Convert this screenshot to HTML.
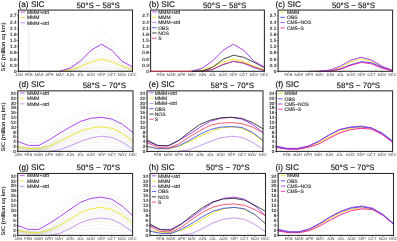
<!DOCTYPE html>
<html><head><meta charset="utf-8"><title>SIC</title>
<style>html,body{margin:0;padding:0;background:#fff;}svg{display:block}text{text-rendering:geometricPrecision}</style></head>
<body><svg width="397" height="241" viewBox="0 0 397 241">
<rect width="397" height="241" fill="#fff"/>
<polyline points="18.40,71.30 28.77,71.30 39.15,71.30 49.52,71.30 59.89,71.30 70.26,66.68 80.64,55.46 91.01,40.61 101.38,31.04 111.75,39.62 122.13,54.80 132.50,66.02" fill="none" stroke="#000" stroke-width="0.45" stroke-linejoin="round" stroke-linecap="round" stroke-opacity="0.11"/>
<polyline points="18.40,71.30 28.77,71.30 39.15,71.30 49.52,71.30 59.89,71.30 70.26,67.66 80.64,58.82 91.01,47.12 101.38,39.58 111.75,46.34 122.13,58.30 132.50,67.14" fill="none" stroke="#000" stroke-width="0.45" stroke-linejoin="round" stroke-linecap="round" stroke-opacity="0.11"/>
<polyline points="18.40,71.30 28.77,71.30 39.15,71.30 49.52,71.30 59.89,71.30 70.26,68.22 80.64,60.74 91.01,50.84 101.38,44.46 111.75,50.18 122.13,60.30 132.50,67.78" fill="none" stroke="#000" stroke-width="0.45" stroke-linejoin="round" stroke-linecap="round" stroke-opacity="0.11"/>
<polyline points="18.40,71.30 28.77,71.30 39.15,71.30 49.52,71.30 59.89,71.30 70.26,68.64 80.64,62.18 91.01,53.63 101.38,48.12 111.75,53.06 122.13,61.80 132.50,68.26" fill="none" stroke="#000" stroke-width="0.45" stroke-linejoin="round" stroke-linecap="round" stroke-opacity="0.11"/>
<polyline points="18.40,71.30 28.77,71.30 39.15,71.30 49.52,71.30 59.89,71.30 70.26,69.06 80.64,63.62 91.01,56.42 101.38,51.78 111.75,55.94 122.13,63.30 132.50,68.74" fill="none" stroke="#000" stroke-width="0.45" stroke-linejoin="round" stroke-linecap="round" stroke-opacity="0.11"/>
<polyline points="18.40,71.30 28.77,71.30 39.15,71.30 49.52,71.30 59.89,71.30 70.26,69.41 80.64,64.82 91.01,58.75 101.38,54.83 111.75,58.34 122.13,64.55 132.50,69.14" fill="none" stroke="#000" stroke-width="0.45" stroke-linejoin="round" stroke-linecap="round" stroke-opacity="0.11"/>
<polyline points="18.40,71.30 28.77,71.30 39.15,71.30 49.52,71.30 59.89,71.30 70.26,69.69 80.64,65.78 91.01,60.61 101.38,57.27 111.75,60.26 122.13,65.55 132.50,69.46" fill="none" stroke="#000" stroke-width="0.45" stroke-linejoin="round" stroke-linecap="round" stroke-opacity="0.11"/>
<polyline points="18.40,71.30 28.77,71.30 39.15,71.30 49.52,71.30 59.89,71.30 70.26,70.11 80.64,67.22 91.01,63.39 101.38,60.93 111.75,63.14 122.13,67.05 132.50,69.94" fill="none" stroke="#000" stroke-width="0.45" stroke-linejoin="round" stroke-linecap="round" stroke-opacity="0.11"/>
<polyline points="18.40,71.30 28.77,71.30 39.15,71.30 49.52,71.30 59.89,71.30 70.26,70.39 80.64,68.18 91.01,65.25 101.38,63.37 111.75,65.06 122.13,68.05 132.50,70.26" fill="none" stroke="#000" stroke-width="0.45" stroke-linejoin="round" stroke-linecap="round" stroke-opacity="0.11"/>
<polyline points="18.40,71.30 28.77,71.30 39.15,71.30 49.52,71.30 59.89,71.30 70.26,70.67 80.64,69.14 91.01,67.11 101.38,65.81 111.75,66.98 122.13,69.05 132.50,70.58" fill="none" stroke="#000" stroke-width="0.45" stroke-linejoin="round" stroke-linecap="round" stroke-opacity="0.11"/>
<polyline points="18.40,71.30 28.77,71.30 39.15,71.30 49.52,71.30 59.89,71.30 70.26,70.88 80.64,69.86 91.01,68.51 101.38,67.64 111.75,68.42 122.13,69.80 132.50,70.82" fill="none" stroke="#000" stroke-width="0.45" stroke-linejoin="round" stroke-linecap="round" stroke-opacity="0.11"/>
<polyline points="18.40,71.30 28.77,71.30 39.15,71.30 49.52,71.30 59.89,71.30 70.26,71.05 80.64,70.44 91.01,69.63 101.38,69.10 111.75,69.57 122.13,70.40 132.50,71.01" fill="none" stroke="#000" stroke-width="0.45" stroke-linejoin="round" stroke-linecap="round" stroke-opacity="0.11"/>
<polyline points="18.40,71.30 28.77,71.30 39.15,71.30 49.52,71.30 59.89,71.30 70.26,71.19 80.64,70.92 91.01,70.56 101.38,70.32 111.75,70.53 122.13,70.90 132.50,71.17" fill="none" stroke="#000" stroke-width="0.45" stroke-linejoin="round" stroke-linecap="round" stroke-opacity="0.11"/>
<line x1="28.77" y1="10.07" x2="28.77" y2="71.3" stroke="#000" stroke-opacity="0.12" stroke-width="0.5"/>
<polyline points="59.89,71.30 70.26,69.90 80.64,66.50 91.01,62.00 101.38,59.10 111.75,61.70 122.13,66.30 132.50,69.70" fill="none" stroke="#ebe32a" stroke-width="0.95" stroke-linejoin="round" stroke-linecap="round"/>
<polyline points="59.89,71.30 70.26,68.10 80.64,60.90 91.01,50.30 101.38,44.20 111.75,50.20 122.13,61.30 132.50,66.90" fill="none" stroke="#a030ee" stroke-width="0.9" stroke-linejoin="round" stroke-linecap="round"/>
<rect x="18.4" y="10.07" width="114.10" height="61.23" fill="none" stroke="#2a2a2a" stroke-width="1.05"/>
<line x1="17.00" y1="71.30" x2="18.4" y2="71.30" stroke="#1a1a1a" stroke-width="0.5"/>
<text x="16.50" y="72.92" font-size="4.6" text-anchor="end" font-family="Liberation Sans, Arial, sans-serif" fill="#222" stroke="#222" stroke-width="0.12">0</text>
<line x1="17.00" y1="65.13" x2="18.4" y2="65.13" stroke="#1a1a1a" stroke-width="0.5"/>
<text x="16.50" y="66.75" font-size="4.6" text-anchor="end" font-family="Liberation Sans, Arial, sans-serif" fill="#222" stroke="#222" stroke-width="0.12">0.3</text>
<line x1="17.00" y1="58.97" x2="18.4" y2="58.97" stroke="#1a1a1a" stroke-width="0.5"/>
<text x="16.50" y="60.59" font-size="4.6" text-anchor="end" font-family="Liberation Sans, Arial, sans-serif" fill="#222" stroke="#222" stroke-width="0.12">0.6</text>
<line x1="17.00" y1="52.80" x2="18.4" y2="52.80" stroke="#1a1a1a" stroke-width="0.5"/>
<text x="16.50" y="54.42" font-size="4.6" text-anchor="end" font-family="Liberation Sans, Arial, sans-serif" fill="#222" stroke="#222" stroke-width="0.12">0.9</text>
<line x1="17.00" y1="46.64" x2="18.4" y2="46.64" stroke="#1a1a1a" stroke-width="0.5"/>
<text x="16.50" y="48.26" font-size="4.6" text-anchor="end" font-family="Liberation Sans, Arial, sans-serif" fill="#222" stroke="#222" stroke-width="0.12">1.2</text>
<line x1="17.00" y1="40.47" x2="18.4" y2="40.47" stroke="#1a1a1a" stroke-width="0.5"/>
<text x="16.50" y="42.09" font-size="4.6" text-anchor="end" font-family="Liberation Sans, Arial, sans-serif" fill="#222" stroke="#222" stroke-width="0.12">1.5</text>
<line x1="17.00" y1="34.31" x2="18.4" y2="34.31" stroke="#1a1a1a" stroke-width="0.5"/>
<text x="16.50" y="35.93" font-size="4.6" text-anchor="end" font-family="Liberation Sans, Arial, sans-serif" fill="#222" stroke="#222" stroke-width="0.12">1.8</text>
<line x1="17.00" y1="28.14" x2="18.4" y2="28.14" stroke="#1a1a1a" stroke-width="0.5"/>
<text x="16.50" y="29.76" font-size="4.6" text-anchor="end" font-family="Liberation Sans, Arial, sans-serif" fill="#222" stroke="#222" stroke-width="0.12">2.1</text>
<line x1="17.00" y1="21.98" x2="18.4" y2="21.98" stroke="#1a1a1a" stroke-width="0.5"/>
<text x="16.50" y="23.60" font-size="4.6" text-anchor="end" font-family="Liberation Sans, Arial, sans-serif" fill="#222" stroke="#222" stroke-width="0.12">2.4</text>
<line x1="17.00" y1="15.81" x2="18.4" y2="15.81" stroke="#1a1a1a" stroke-width="0.5"/>
<text x="16.50" y="17.43" font-size="4.6" text-anchor="end" font-family="Liberation Sans, Arial, sans-serif" fill="#222" stroke="#222" stroke-width="0.12">2.7</text>
<line x1="18.40" y1="71.3" x2="18.40" y2="72.60" stroke="#1a1a1a" stroke-width="0.5"/>
<text x="19.00" y="76.15" font-size="4.0" text-anchor="middle" font-family="Liberation Sans, Arial, sans-serif" fill="#3a3a3a">JAN</text>
<line x1="28.77" y1="71.3" x2="28.77" y2="72.60" stroke="#1a1a1a" stroke-width="0.5"/>
<text x="28.77" y="76.15" font-size="4.0" text-anchor="middle" font-family="Liberation Sans, Arial, sans-serif" fill="#3a3a3a">FEB</text>
<line x1="39.15" y1="71.3" x2="39.15" y2="72.60" stroke="#1a1a1a" stroke-width="0.5"/>
<text x="39.15" y="76.15" font-size="4.0" text-anchor="middle" font-family="Liberation Sans, Arial, sans-serif" fill="#3a3a3a">MAR</text>
<line x1="49.52" y1="71.3" x2="49.52" y2="72.60" stroke="#1a1a1a" stroke-width="0.5"/>
<text x="49.52" y="76.15" font-size="4.0" text-anchor="middle" font-family="Liberation Sans, Arial, sans-serif" fill="#3a3a3a">APR</text>
<line x1="59.89" y1="71.3" x2="59.89" y2="72.60" stroke="#1a1a1a" stroke-width="0.5"/>
<text x="59.89" y="76.15" font-size="4.0" text-anchor="middle" font-family="Liberation Sans, Arial, sans-serif" fill="#3a3a3a">MAY</text>
<line x1="70.26" y1="71.3" x2="70.26" y2="72.60" stroke="#1a1a1a" stroke-width="0.5"/>
<text x="70.26" y="76.15" font-size="4.0" text-anchor="middle" font-family="Liberation Sans, Arial, sans-serif" fill="#3a3a3a">JUN</text>
<line x1="80.64" y1="71.3" x2="80.64" y2="72.60" stroke="#1a1a1a" stroke-width="0.5"/>
<text x="80.64" y="76.15" font-size="4.0" text-anchor="middle" font-family="Liberation Sans, Arial, sans-serif" fill="#3a3a3a">JUL</text>
<line x1="91.01" y1="71.3" x2="91.01" y2="72.60" stroke="#1a1a1a" stroke-width="0.5"/>
<text x="91.01" y="76.15" font-size="4.0" text-anchor="middle" font-family="Liberation Sans, Arial, sans-serif" fill="#3a3a3a">AUG</text>
<line x1="101.38" y1="71.3" x2="101.38" y2="72.60" stroke="#1a1a1a" stroke-width="0.5"/>
<text x="101.38" y="76.15" font-size="4.0" text-anchor="middle" font-family="Liberation Sans, Arial, sans-serif" fill="#3a3a3a">SEP</text>
<line x1="111.75" y1="71.3" x2="111.75" y2="72.60" stroke="#1a1a1a" stroke-width="0.5"/>
<text x="111.75" y="76.15" font-size="4.0" text-anchor="middle" font-family="Liberation Sans, Arial, sans-serif" fill="#3a3a3a">OCT</text>
<line x1="122.13" y1="71.3" x2="122.13" y2="72.60" stroke="#1a1a1a" stroke-width="0.5"/>
<text x="122.13" y="76.15" font-size="4.0" text-anchor="middle" font-family="Liberation Sans, Arial, sans-serif" fill="#3a3a3a">NOV</text>
<line x1="132.50" y1="71.3" x2="132.50" y2="72.60" stroke="#1a1a1a" stroke-width="0.5"/>
<text x="132.50" y="76.15" font-size="4.0" text-anchor="middle" font-family="Liberation Sans, Arial, sans-serif" fill="#3a3a3a">DEC</text>
<text x="18.60" y="7.05" font-size="8.2" font-family="Liberation Sans, Arial, sans-serif" fill="#111" stroke="#111" stroke-width="0.15">(a) SIC</text>
<text x="76.50" y="7.50" font-size="7.8" textLength="43.20" lengthAdjust="spacingAndGlyphs" font-family="Liberation Sans, Arial, sans-serif" fill="#111" stroke="#111" stroke-width="0.12">50°S − 58°S</text>
<line x1="20.50" y1="12.00" x2="25.00" y2="12.00" stroke="#a030ee" stroke-width="0.95" stroke-opacity="0.85"/>
<text x="26.90" y="13.80" font-size="5.0" font-family="Liberation Sans, Arial, sans-serif" fill="#222" stroke="#222" stroke-width="0.1">MMM+std</text>
<line x1="20.50" y1="17.45" x2="25.00" y2="17.45" stroke="#ebe32a" stroke-width="0.95" stroke-opacity="0.85"/>
<text x="26.90" y="19.25" font-size="5.0" font-family="Liberation Sans, Arial, sans-serif" fill="#222" stroke="#222" stroke-width="0.1">MMM</text>
<line x1="20.50" y1="22.90" x2="25.00" y2="22.90" stroke="#b97cee" stroke-width="0.95" stroke-opacity="0.85"/>
<text x="26.90" y="24.70" font-size="5.0" font-family="Liberation Sans, Arial, sans-serif" fill="#222" stroke="#222" stroke-width="0.1">MMM−std</text>
<text transform="translate(5.0,71.50) rotate(-90)" font-size="5.3" stroke="#222" stroke-width="0.1" textLength="49" lengthAdjust="spacingAndGlyphs" font-family="Liberation Sans, Arial, sans-serif" fill="#222">SIC (million sq km)</text>
<polyline points="191.98,71.30 202.33,69.90 212.67,66.50 223.02,62.00 233.36,59.10 243.71,61.70 254.05,66.30 264.40,69.70" fill="none" stroke="#ebe32a" stroke-width="0.95" stroke-linejoin="round" stroke-linecap="round"/>
<polyline points="191.98,71.30 202.33,71.20 212.67,69.50 223.02,64.70 233.36,61.40 243.71,63.30 254.05,67.70 264.40,70.70" fill="none" stroke="#2a3eee" stroke-width="0.8" stroke-linejoin="round" stroke-linecap="round"/>
<polyline points="191.98,71.30 202.33,71.20 212.67,69.30 223.02,64.30 233.36,61.30 243.71,62.90 254.05,66.90 264.40,70.30" fill="none" stroke="#f03050" stroke-width="0.8" stroke-linejoin="round" stroke-linecap="round"/>
<polyline points="191.98,71.30 202.33,71.00 212.67,67.30 223.02,59.30 233.36,55.20 243.71,57.30 254.05,62.30 264.40,67.70" fill="none" stroke="#1a1a1a" stroke-width="0.8" stroke-linejoin="round" stroke-linecap="round"/>
<polyline points="191.98,71.30 202.33,68.10 212.67,60.90 223.02,50.30 233.36,44.20 243.71,50.20 254.05,61.30 264.40,66.90" fill="none" stroke="#a030ee" stroke-width="0.9" stroke-linejoin="round" stroke-linecap="round"/>
<rect x="150.6" y="10.07" width="113.80" height="61.23" fill="none" stroke="#2a2a2a" stroke-width="1.05"/>
<line x1="149.20" y1="71.30" x2="150.6" y2="71.30" stroke="#1a1a1a" stroke-width="0.5"/>
<text x="148.70" y="72.92" font-size="4.6" text-anchor="end" font-family="Liberation Sans, Arial, sans-serif" fill="#222" stroke="#222" stroke-width="0.12">0</text>
<line x1="149.20" y1="65.13" x2="150.6" y2="65.13" stroke="#1a1a1a" stroke-width="0.5"/>
<text x="148.70" y="66.75" font-size="4.6" text-anchor="end" font-family="Liberation Sans, Arial, sans-serif" fill="#222" stroke="#222" stroke-width="0.12">0.3</text>
<line x1="149.20" y1="58.97" x2="150.6" y2="58.97" stroke="#1a1a1a" stroke-width="0.5"/>
<text x="148.70" y="60.59" font-size="4.6" text-anchor="end" font-family="Liberation Sans, Arial, sans-serif" fill="#222" stroke="#222" stroke-width="0.12">0.6</text>
<line x1="149.20" y1="52.80" x2="150.6" y2="52.80" stroke="#1a1a1a" stroke-width="0.5"/>
<text x="148.70" y="54.42" font-size="4.6" text-anchor="end" font-family="Liberation Sans, Arial, sans-serif" fill="#222" stroke="#222" stroke-width="0.12">0.9</text>
<line x1="149.20" y1="46.64" x2="150.6" y2="46.64" stroke="#1a1a1a" stroke-width="0.5"/>
<text x="148.70" y="48.26" font-size="4.6" text-anchor="end" font-family="Liberation Sans, Arial, sans-serif" fill="#222" stroke="#222" stroke-width="0.12">1.2</text>
<line x1="149.20" y1="40.47" x2="150.6" y2="40.47" stroke="#1a1a1a" stroke-width="0.5"/>
<text x="148.70" y="42.09" font-size="4.6" text-anchor="end" font-family="Liberation Sans, Arial, sans-serif" fill="#222" stroke="#222" stroke-width="0.12">1.5</text>
<line x1="149.20" y1="34.31" x2="150.6" y2="34.31" stroke="#1a1a1a" stroke-width="0.5"/>
<text x="148.70" y="35.93" font-size="4.6" text-anchor="end" font-family="Liberation Sans, Arial, sans-serif" fill="#222" stroke="#222" stroke-width="0.12">1.8</text>
<line x1="149.20" y1="28.14" x2="150.6" y2="28.14" stroke="#1a1a1a" stroke-width="0.5"/>
<text x="148.70" y="29.76" font-size="4.6" text-anchor="end" font-family="Liberation Sans, Arial, sans-serif" fill="#222" stroke="#222" stroke-width="0.12">2.1</text>
<line x1="149.20" y1="21.98" x2="150.6" y2="21.98" stroke="#1a1a1a" stroke-width="0.5"/>
<text x="148.70" y="23.60" font-size="4.6" text-anchor="end" font-family="Liberation Sans, Arial, sans-serif" fill="#222" stroke="#222" stroke-width="0.12">2.4</text>
<line x1="149.20" y1="15.81" x2="150.6" y2="15.81" stroke="#1a1a1a" stroke-width="0.5"/>
<text x="148.70" y="17.43" font-size="4.6" text-anchor="end" font-family="Liberation Sans, Arial, sans-serif" fill="#222" stroke="#222" stroke-width="0.12">2.7</text>
<line x1="150.60" y1="71.3" x2="150.60" y2="72.60" stroke="#1a1a1a" stroke-width="0.5"/>
<line x1="160.95" y1="71.3" x2="160.95" y2="72.60" stroke="#1a1a1a" stroke-width="0.5"/>
<text x="160.95" y="76.15" font-size="4.0" text-anchor="middle" font-family="Liberation Sans, Arial, sans-serif" fill="#3a3a3a">FEB</text>
<line x1="171.29" y1="71.3" x2="171.29" y2="72.60" stroke="#1a1a1a" stroke-width="0.5"/>
<text x="171.29" y="76.15" font-size="4.0" text-anchor="middle" font-family="Liberation Sans, Arial, sans-serif" fill="#3a3a3a">MAR</text>
<line x1="181.64" y1="71.3" x2="181.64" y2="72.60" stroke="#1a1a1a" stroke-width="0.5"/>
<text x="181.64" y="76.15" font-size="4.0" text-anchor="middle" font-family="Liberation Sans, Arial, sans-serif" fill="#3a3a3a">APR</text>
<line x1="191.98" y1="71.3" x2="191.98" y2="72.60" stroke="#1a1a1a" stroke-width="0.5"/>
<text x="191.98" y="76.15" font-size="4.0" text-anchor="middle" font-family="Liberation Sans, Arial, sans-serif" fill="#3a3a3a">MAY</text>
<line x1="202.33" y1="71.3" x2="202.33" y2="72.60" stroke="#1a1a1a" stroke-width="0.5"/>
<text x="202.33" y="76.15" font-size="4.0" text-anchor="middle" font-family="Liberation Sans, Arial, sans-serif" fill="#3a3a3a">JUN</text>
<line x1="212.67" y1="71.3" x2="212.67" y2="72.60" stroke="#1a1a1a" stroke-width="0.5"/>
<text x="212.67" y="76.15" font-size="4.0" text-anchor="middle" font-family="Liberation Sans, Arial, sans-serif" fill="#3a3a3a">JUL</text>
<line x1="223.02" y1="71.3" x2="223.02" y2="72.60" stroke="#1a1a1a" stroke-width="0.5"/>
<text x="223.02" y="76.15" font-size="4.0" text-anchor="middle" font-family="Liberation Sans, Arial, sans-serif" fill="#3a3a3a">AUG</text>
<line x1="233.36" y1="71.3" x2="233.36" y2="72.60" stroke="#1a1a1a" stroke-width="0.5"/>
<text x="233.36" y="76.15" font-size="4.0" text-anchor="middle" font-family="Liberation Sans, Arial, sans-serif" fill="#3a3a3a">SEP</text>
<line x1="243.71" y1="71.3" x2="243.71" y2="72.60" stroke="#1a1a1a" stroke-width="0.5"/>
<text x="243.71" y="76.15" font-size="4.0" text-anchor="middle" font-family="Liberation Sans, Arial, sans-serif" fill="#3a3a3a">OCT</text>
<line x1="254.05" y1="71.3" x2="254.05" y2="72.60" stroke="#1a1a1a" stroke-width="0.5"/>
<text x="254.05" y="76.15" font-size="4.0" text-anchor="middle" font-family="Liberation Sans, Arial, sans-serif" fill="#3a3a3a">NOV</text>
<line x1="264.40" y1="71.3" x2="264.40" y2="72.60" stroke="#1a1a1a" stroke-width="0.5"/>
<text x="264.40" y="76.15" font-size="4.0" text-anchor="middle" font-family="Liberation Sans, Arial, sans-serif" fill="#3a3a3a">DEC</text>
<text x="149.00" y="7.05" font-size="8.2" font-family="Liberation Sans, Arial, sans-serif" fill="#111" stroke="#111" stroke-width="0.15">(b) SIC</text>
<text x="203.00" y="7.50" font-size="7.8" textLength="43.20" lengthAdjust="spacingAndGlyphs" font-family="Liberation Sans, Arial, sans-serif" fill="#111" stroke="#111" stroke-width="0.12">50°S − 58°S</text>
<line x1="152.20" y1="11.90" x2="156.70" y2="11.90" stroke="#a030ee" stroke-width="0.95" stroke-opacity="0.85"/>
<text x="158.20" y="13.70" font-size="5.0" font-family="Liberation Sans, Arial, sans-serif" fill="#222" stroke="#222" stroke-width="0.1">MMM+std</text>
<line x1="152.20" y1="17.17" x2="156.70" y2="17.17" stroke="#ebe32a" stroke-width="0.95" stroke-opacity="0.85"/>
<text x="158.20" y="18.97" font-size="5.0" font-family="Liberation Sans, Arial, sans-serif" fill="#222" stroke="#222" stroke-width="0.1">MMM</text>
<line x1="152.20" y1="22.44" x2="156.70" y2="22.44" stroke="#b97cee" stroke-width="0.95" stroke-opacity="0.85"/>
<text x="158.20" y="24.24" font-size="5.0" font-family="Liberation Sans, Arial, sans-serif" fill="#222" stroke="#222" stroke-width="0.1">MMM−std</text>
<line x1="152.20" y1="27.71" x2="156.70" y2="27.71" stroke="#2a3eee" stroke-width="0.95" stroke-opacity="0.85"/>
<text x="158.20" y="29.51" font-size="5.0" font-family="Liberation Sans, Arial, sans-serif" fill="#222" stroke="#222" stroke-width="0.1">OBS</text>
<line x1="152.20" y1="32.98" x2="156.70" y2="32.98" stroke="#1a1a1a" stroke-width="0.95" stroke-opacity="0.85"/>
<text x="158.20" y="34.78" font-size="5.0" font-family="Liberation Sans, Arial, sans-serif" fill="#222" stroke="#222" stroke-width="0.1">NOS</text>
<line x1="152.20" y1="38.25" x2="156.70" y2="38.25" stroke="#f03050" stroke-width="0.95" stroke-opacity="0.85"/>
<text x="158.20" y="40.05" font-size="5.0" font-family="Liberation Sans, Arial, sans-serif" fill="#222" stroke="#222" stroke-width="0.1">S</text>
<line x1="150.6" y1="71.3" x2="192" y2="71.3" stroke="#f03050" stroke-width="0.8"/>
<polyline points="309.33,71.30 319.74,71.20 330.15,70.30 340.55,67.30 350.96,61.90 361.37,58.70 371.78,61.30 382.19,66.70 392.60,70.30" fill="none" stroke="#ebe32a" stroke-width="0.95" stroke-linejoin="round" stroke-linecap="round"/>
<polyline points="319.74,71.30 330.15,71.00 340.55,68.70 350.96,64.70 361.37,61.70 371.78,62.90 382.19,67.30 392.60,70.70" fill="none" stroke="#2a3eee" stroke-width="0.9" stroke-linejoin="round" stroke-linecap="round"/>
<polyline points="319.74,71.30 330.15,71.10 340.55,69.30 350.96,65.30 361.37,62.30 371.78,63.90 382.19,68.30 392.60,70.90" fill="none" stroke="#ff1493" stroke-width="0.9" stroke-linejoin="round" stroke-linecap="round"/>
<polyline points="309.33,71.30 319.74,71.20 330.15,69.90 340.55,65.90 350.96,60.20 361.37,57.20 371.78,60.20 382.19,66.30 392.60,70.30" fill="none" stroke="#a030ee" stroke-width="0.9" stroke-linejoin="round" stroke-linecap="round"/>
<rect x="278.1" y="10.07" width="114.50" height="61.23" fill="none" stroke="#2a2a2a" stroke-width="1.05"/>
<line x1="276.70" y1="71.30" x2="278.1" y2="71.30" stroke="#1a1a1a" stroke-width="0.5"/>
<text x="276.20" y="72.92" font-size="4.6" text-anchor="end" font-family="Liberation Sans, Arial, sans-serif" fill="#222" stroke="#222" stroke-width="0.12">0</text>
<line x1="276.70" y1="65.13" x2="278.1" y2="65.13" stroke="#1a1a1a" stroke-width="0.5"/>
<text x="276.20" y="66.75" font-size="4.6" text-anchor="end" font-family="Liberation Sans, Arial, sans-serif" fill="#222" stroke="#222" stroke-width="0.12">0.3</text>
<line x1="276.70" y1="58.97" x2="278.1" y2="58.97" stroke="#1a1a1a" stroke-width="0.5"/>
<text x="276.20" y="60.59" font-size="4.6" text-anchor="end" font-family="Liberation Sans, Arial, sans-serif" fill="#222" stroke="#222" stroke-width="0.12">0.6</text>
<line x1="276.70" y1="52.80" x2="278.1" y2="52.80" stroke="#1a1a1a" stroke-width="0.5"/>
<text x="276.20" y="54.42" font-size="4.6" text-anchor="end" font-family="Liberation Sans, Arial, sans-serif" fill="#222" stroke="#222" stroke-width="0.12">0.9</text>
<line x1="276.70" y1="46.64" x2="278.1" y2="46.64" stroke="#1a1a1a" stroke-width="0.5"/>
<text x="276.20" y="48.26" font-size="4.6" text-anchor="end" font-family="Liberation Sans, Arial, sans-serif" fill="#222" stroke="#222" stroke-width="0.12">1.2</text>
<line x1="276.70" y1="40.47" x2="278.1" y2="40.47" stroke="#1a1a1a" stroke-width="0.5"/>
<text x="276.20" y="42.09" font-size="4.6" text-anchor="end" font-family="Liberation Sans, Arial, sans-serif" fill="#222" stroke="#222" stroke-width="0.12">1.5</text>
<line x1="276.70" y1="34.31" x2="278.1" y2="34.31" stroke="#1a1a1a" stroke-width="0.5"/>
<text x="276.20" y="35.93" font-size="4.6" text-anchor="end" font-family="Liberation Sans, Arial, sans-serif" fill="#222" stroke="#222" stroke-width="0.12">1.8</text>
<line x1="276.70" y1="28.14" x2="278.1" y2="28.14" stroke="#1a1a1a" stroke-width="0.5"/>
<text x="276.20" y="29.76" font-size="4.6" text-anchor="end" font-family="Liberation Sans, Arial, sans-serif" fill="#222" stroke="#222" stroke-width="0.12">2.1</text>
<line x1="276.70" y1="21.98" x2="278.1" y2="21.98" stroke="#1a1a1a" stroke-width="0.5"/>
<text x="276.20" y="23.60" font-size="4.6" text-anchor="end" font-family="Liberation Sans, Arial, sans-serif" fill="#222" stroke="#222" stroke-width="0.12">2.4</text>
<line x1="276.70" y1="15.81" x2="278.1" y2="15.81" stroke="#1a1a1a" stroke-width="0.5"/>
<text x="276.20" y="17.43" font-size="4.6" text-anchor="end" font-family="Liberation Sans, Arial, sans-serif" fill="#222" stroke="#222" stroke-width="0.12">2.7</text>
<line x1="278.10" y1="71.3" x2="278.10" y2="72.60" stroke="#1a1a1a" stroke-width="0.5"/>
<line x1="288.51" y1="71.3" x2="288.51" y2="72.60" stroke="#1a1a1a" stroke-width="0.5"/>
<text x="288.51" y="76.15" font-size="4.0" text-anchor="middle" font-family="Liberation Sans, Arial, sans-serif" fill="#3a3a3a">FEB</text>
<line x1="298.92" y1="71.3" x2="298.92" y2="72.60" stroke="#1a1a1a" stroke-width="0.5"/>
<text x="298.92" y="76.15" font-size="4.0" text-anchor="middle" font-family="Liberation Sans, Arial, sans-serif" fill="#3a3a3a">MAR</text>
<line x1="309.33" y1="71.3" x2="309.33" y2="72.60" stroke="#1a1a1a" stroke-width="0.5"/>
<text x="309.33" y="76.15" font-size="4.0" text-anchor="middle" font-family="Liberation Sans, Arial, sans-serif" fill="#3a3a3a">APR</text>
<line x1="319.74" y1="71.3" x2="319.74" y2="72.60" stroke="#1a1a1a" stroke-width="0.5"/>
<text x="319.74" y="76.15" font-size="4.0" text-anchor="middle" font-family="Liberation Sans, Arial, sans-serif" fill="#3a3a3a">MAY</text>
<line x1="330.15" y1="71.3" x2="330.15" y2="72.60" stroke="#1a1a1a" stroke-width="0.5"/>
<text x="330.15" y="76.15" font-size="4.0" text-anchor="middle" font-family="Liberation Sans, Arial, sans-serif" fill="#3a3a3a">JUN</text>
<line x1="340.55" y1="71.3" x2="340.55" y2="72.60" stroke="#1a1a1a" stroke-width="0.5"/>
<text x="340.55" y="76.15" font-size="4.0" text-anchor="middle" font-family="Liberation Sans, Arial, sans-serif" fill="#3a3a3a">JUL</text>
<line x1="350.96" y1="71.3" x2="350.96" y2="72.60" stroke="#1a1a1a" stroke-width="0.5"/>
<text x="350.96" y="76.15" font-size="4.0" text-anchor="middle" font-family="Liberation Sans, Arial, sans-serif" fill="#3a3a3a">AUG</text>
<line x1="361.37" y1="71.3" x2="361.37" y2="72.60" stroke="#1a1a1a" stroke-width="0.5"/>
<text x="361.37" y="76.15" font-size="4.0" text-anchor="middle" font-family="Liberation Sans, Arial, sans-serif" fill="#3a3a3a">SEP</text>
<line x1="371.78" y1="71.3" x2="371.78" y2="72.60" stroke="#1a1a1a" stroke-width="0.5"/>
<text x="371.78" y="76.15" font-size="4.0" text-anchor="middle" font-family="Liberation Sans, Arial, sans-serif" fill="#3a3a3a">OCT</text>
<line x1="382.19" y1="71.3" x2="382.19" y2="72.60" stroke="#1a1a1a" stroke-width="0.5"/>
<text x="382.19" y="76.15" font-size="4.0" text-anchor="middle" font-family="Liberation Sans, Arial, sans-serif" fill="#3a3a3a">NOV</text>
<line x1="392.60" y1="71.3" x2="392.60" y2="72.60" stroke="#1a1a1a" stroke-width="0.5"/>
<text x="392.60" y="76.15" font-size="4.0" text-anchor="middle" font-family="Liberation Sans, Arial, sans-serif" fill="#3a3a3a">DEC</text>
<text x="275.50" y="7.05" font-size="8.2" font-family="Liberation Sans, Arial, sans-serif" fill="#111" stroke="#111" stroke-width="0.15">(c) SIC</text>
<text x="331.90" y="7.50" font-size="7.8" textLength="43.10" lengthAdjust="spacingAndGlyphs" font-family="Liberation Sans, Arial, sans-serif" fill="#111" stroke="#111" stroke-width="0.12">50°S − 58°S</text>
<line x1="280.40" y1="12.00" x2="284.80" y2="12.00" stroke="#ebe32a" stroke-width="0.95" stroke-opacity="0.85"/>
<text x="287.00" y="13.80" font-size="5.0" font-family="Liberation Sans, Arial, sans-serif" fill="#222" stroke="#222" stroke-width="0.1">MMM</text>
<line x1="280.40" y1="17.30" x2="284.80" y2="17.30" stroke="#2a3eee" stroke-width="0.95" stroke-opacity="0.85"/>
<text x="287.00" y="19.10" font-size="5.0" font-family="Liberation Sans, Arial, sans-serif" fill="#222" stroke="#222" stroke-width="0.1">OBS</text>
<line x1="280.40" y1="22.60" x2="284.80" y2="22.60" stroke="#a030ee" stroke-width="0.95" stroke-opacity="0.85"/>
<text x="287.00" y="24.40" font-size="5.0" font-family="Liberation Sans, Arial, sans-serif" fill="#222" stroke="#222" stroke-width="0.1">CM5−NOS</text>
<line x1="280.40" y1="27.90" x2="284.80" y2="27.90" stroke="#ff1493" stroke-width="0.95" stroke-opacity="0.85"/>
<text x="287.00" y="29.70" font-size="5.0" font-family="Liberation Sans, Arial, sans-serif" fill="#222" stroke="#222" stroke-width="0.1">CM5−S</text>
<polyline points="17.80,145.55 28.27,147.41 38.75,147.81 49.22,144.62 59.69,137.83 70.16,130.92 80.64,124.27 91.11,120.28 101.58,118.81 112.05,120.68 122.53,127.59 133.00,138.10" fill="none" stroke="#000" stroke-width="0.45" stroke-linejoin="round" stroke-linecap="round" stroke-opacity="0.11"/>
<polyline points="17.80,146.03 28.27,147.74 38.75,148.11 49.22,145.18 59.69,138.96 70.16,132.61 80.64,126.51 91.11,122.85 101.58,121.51 112.05,123.22 122.53,129.56 133.00,139.20" fill="none" stroke="#000" stroke-width="0.45" stroke-linejoin="round" stroke-linecap="round" stroke-opacity="0.11"/>
<polyline points="17.80,146.38 28.27,147.98 38.75,148.32 49.22,145.59 59.69,139.77 70.16,133.84 80.64,128.14 91.11,124.72 101.58,123.47 112.05,125.07 122.53,130.99 133.00,140.00" fill="none" stroke="#000" stroke-width="0.45" stroke-linejoin="round" stroke-linecap="round" stroke-opacity="0.11"/>
<polyline points="17.80,146.69 28.27,148.19 38.75,148.51 49.22,145.94 59.69,140.49 70.16,134.92 80.64,129.57 91.11,126.36 101.58,125.19 112.05,126.68 122.53,132.25 133.00,140.70" fill="none" stroke="#000" stroke-width="0.45" stroke-linejoin="round" stroke-linecap="round" stroke-opacity="0.11"/>
<polyline points="17.80,147.31 28.27,148.61 38.75,148.89 49.22,146.66 59.69,141.91 70.16,137.08 80.64,132.43 91.11,129.64 101.58,128.62 112.05,129.92 122.53,134.75 133.00,142.10" fill="none" stroke="#000" stroke-width="0.45" stroke-linejoin="round" stroke-linecap="round" stroke-opacity="0.11"/>
<polyline points="17.80,147.62 28.27,148.82 38.75,149.08 49.22,147.01 59.69,142.63 70.16,138.16 80.64,133.86 91.11,131.28 101.58,130.33 112.05,131.53 122.53,136.01 133.00,142.80" fill="none" stroke="#000" stroke-width="0.45" stroke-linejoin="round" stroke-linecap="round" stroke-opacity="0.11"/>
<polyline points="17.80,147.97 28.27,149.06 38.75,149.29 49.22,147.42 59.69,143.44 70.16,139.39 80.64,135.49 91.11,133.15 101.58,132.29 112.05,133.38 122.53,137.44 133.00,143.60" fill="none" stroke="#000" stroke-width="0.45" stroke-linejoin="round" stroke-linecap="round" stroke-opacity="0.11"/>
<polyline points="17.80,148.32 28.27,149.30 38.75,149.51 49.22,147.83 59.69,144.26 70.16,140.62 80.64,137.12 91.11,135.02 101.58,134.25 112.05,135.23 122.53,138.87 133.00,144.40" fill="none" stroke="#000" stroke-width="0.45" stroke-linejoin="round" stroke-linecap="round" stroke-opacity="0.11"/>
<polyline points="17.80,148.76 28.27,149.60 38.75,149.78 49.22,148.34 59.69,145.28 70.16,142.16 80.64,139.16 91.11,137.36 101.58,136.70 112.05,137.54 122.53,140.66 133.00,145.40" fill="none" stroke="#000" stroke-width="0.45" stroke-linejoin="round" stroke-linecap="round" stroke-opacity="0.11"/>
<polyline points="17.80,149.20 28.27,149.90 38.75,150.05 49.22,148.85 59.69,146.30 70.16,143.70 80.64,141.20 91.11,139.70 101.58,139.15 112.05,139.85 122.53,142.45 133.00,146.40" fill="none" stroke="#000" stroke-width="0.45" stroke-linejoin="round" stroke-linecap="round" stroke-opacity="0.11"/>
<polyline points="17.80,149.73 28.27,150.26 38.75,150.37 49.22,149.46 59.69,147.52 70.16,145.55 80.64,143.65 91.11,142.51 101.58,142.09 112.05,142.62 122.53,144.60 133.00,147.60" fill="none" stroke="#000" stroke-width="0.45" stroke-linejoin="round" stroke-linecap="round" stroke-opacity="0.11"/>
<polyline points="17.80,150.30 28.27,150.65 38.75,150.72 49.22,150.12 59.69,148.85 70.16,147.55 80.64,146.30 91.11,145.55 101.58,145.28 112.05,145.62 122.53,146.93 133.00,148.90" fill="none" stroke="#000" stroke-width="0.45" stroke-linejoin="round" stroke-linecap="round" stroke-opacity="0.11"/>
<polyline points="17.80,150.87 28.27,151.04 38.75,151.08 49.22,150.79 59.69,150.18 70.16,149.55 80.64,148.95 91.11,148.59 101.58,148.46 112.05,148.63 122.53,149.25 133.00,150.20" fill="none" stroke="#000" stroke-width="0.45" stroke-linejoin="round" stroke-linecap="round" stroke-opacity="0.11"/>
<polyline points="17.80,133.46 28.27,139.60 38.75,139.60 49.22,131.51 59.69,123.42 70.16,116.88 80.64,112.98 91.11,110.35 101.58,109.67 112.05,111.03 122.53,115.91 133.00,124.69" fill="none" stroke="#000" stroke-width="0.45" stroke-linejoin="round" stroke-linecap="round" stroke-opacity="0.11"/>
<polyline points="17.80,137.36 28.27,142.72 38.75,142.72 49.22,135.90 59.69,128.10 70.16,121.27 80.64,115.91 91.11,112.79 101.58,111.82 112.05,113.47 122.53,119.32 133.00,128.59" fill="none" stroke="#000" stroke-width="0.45" stroke-linejoin="round" stroke-linecap="round" stroke-opacity="0.11"/>
<polyline points="17.80,144.19 28.27,147.11 38.75,147.40 49.22,143.70 59.69,136.87 70.16,128.59 80.64,121.76 91.11,118.35 101.58,117.37 112.05,120.30 122.53,127.12 133.00,137.36" fill="none" stroke="#000" stroke-width="0.45" stroke-linejoin="round" stroke-linecap="round" stroke-opacity="0.11"/>
<polyline points="49.22,151.40 59.69,149.80 70.16,145.80 80.64,141.40 91.11,137.90 101.58,136.20 112.05,137.40 122.53,142.30 133.00,149.20" fill="none" stroke="#b97cee" stroke-width="0.8" stroke-linejoin="round" stroke-linecap="round"/>
<polyline points="17.80,147.00 28.27,148.40 38.75,148.70 49.22,146.30 59.69,141.20 70.16,136.00 80.64,131.00 91.11,128.00 101.58,126.90 112.05,128.30 122.53,133.50 133.00,141.40" fill="none" stroke="#ebe32a" stroke-width="0.95" stroke-linejoin="round" stroke-linecap="round"/>
<polyline points="17.80,141.40 28.27,145.40 38.75,145.40 49.22,139.80 59.69,133.20 70.16,127.00 80.64,121.30 91.11,118.20 101.58,117.30 112.05,119.10 122.53,124.30 133.00,132.70" fill="none" stroke="#a030ee" stroke-width="0.9" stroke-linejoin="round" stroke-linecap="round"/>
<rect x="17.8" y="90.85" width="115.20" height="60.55" fill="none" stroke="#2a2a2a" stroke-width="1.05"/>
<line x1="16.40" y1="151.40" x2="17.8" y2="151.40" stroke="#1a1a1a" stroke-width="0.5"/>
<text x="15.90" y="153.02" font-size="4.6" text-anchor="end" font-family="Liberation Sans, Arial, sans-serif" fill="#222" stroke="#222" stroke-width="0.12">0</text>
<line x1="16.40" y1="146.56" x2="17.8" y2="146.56" stroke="#1a1a1a" stroke-width="0.5"/>
<text x="15.90" y="148.18" font-size="4.6" text-anchor="end" font-family="Liberation Sans, Arial, sans-serif" fill="#222" stroke="#222" stroke-width="0.12">2</text>
<line x1="16.40" y1="141.71" x2="17.8" y2="141.71" stroke="#1a1a1a" stroke-width="0.5"/>
<text x="15.90" y="143.33" font-size="4.6" text-anchor="end" font-family="Liberation Sans, Arial, sans-serif" fill="#222" stroke="#222" stroke-width="0.12">4</text>
<line x1="16.40" y1="136.87" x2="17.8" y2="136.87" stroke="#1a1a1a" stroke-width="0.5"/>
<text x="15.90" y="138.49" font-size="4.6" text-anchor="end" font-family="Liberation Sans, Arial, sans-serif" fill="#222" stroke="#222" stroke-width="0.12">6</text>
<line x1="16.40" y1="132.02" x2="17.8" y2="132.02" stroke="#1a1a1a" stroke-width="0.5"/>
<text x="15.90" y="133.64" font-size="4.6" text-anchor="end" font-family="Liberation Sans, Arial, sans-serif" fill="#222" stroke="#222" stroke-width="0.12">8</text>
<line x1="16.40" y1="127.18" x2="17.8" y2="127.18" stroke="#1a1a1a" stroke-width="0.5"/>
<text x="15.90" y="128.80" font-size="4.6" text-anchor="end" font-family="Liberation Sans, Arial, sans-serif" fill="#222" stroke="#222" stroke-width="0.12">10</text>
<line x1="16.40" y1="122.34" x2="17.8" y2="122.34" stroke="#1a1a1a" stroke-width="0.5"/>
<text x="15.90" y="123.96" font-size="4.6" text-anchor="end" font-family="Liberation Sans, Arial, sans-serif" fill="#222" stroke="#222" stroke-width="0.12">12</text>
<line x1="16.40" y1="117.49" x2="17.8" y2="117.49" stroke="#1a1a1a" stroke-width="0.5"/>
<text x="15.90" y="119.11" font-size="4.6" text-anchor="end" font-family="Liberation Sans, Arial, sans-serif" fill="#222" stroke="#222" stroke-width="0.12">14</text>
<line x1="16.40" y1="112.65" x2="17.8" y2="112.65" stroke="#1a1a1a" stroke-width="0.5"/>
<text x="15.90" y="114.27" font-size="4.6" text-anchor="end" font-family="Liberation Sans, Arial, sans-serif" fill="#222" stroke="#222" stroke-width="0.12">16</text>
<line x1="16.40" y1="107.80" x2="17.8" y2="107.80" stroke="#1a1a1a" stroke-width="0.5"/>
<text x="15.90" y="109.42" font-size="4.6" text-anchor="end" font-family="Liberation Sans, Arial, sans-serif" fill="#222" stroke="#222" stroke-width="0.12">18</text>
<line x1="16.40" y1="102.96" x2="17.8" y2="102.96" stroke="#1a1a1a" stroke-width="0.5"/>
<text x="15.90" y="104.58" font-size="4.6" text-anchor="end" font-family="Liberation Sans, Arial, sans-serif" fill="#222" stroke="#222" stroke-width="0.12">20</text>
<line x1="16.40" y1="98.12" x2="17.8" y2="98.12" stroke="#1a1a1a" stroke-width="0.5"/>
<text x="15.90" y="99.74" font-size="4.6" text-anchor="end" font-family="Liberation Sans, Arial, sans-serif" fill="#222" stroke="#222" stroke-width="0.12">22</text>
<line x1="16.40" y1="93.27" x2="17.8" y2="93.27" stroke="#1a1a1a" stroke-width="0.5"/>
<text x="15.90" y="94.89" font-size="4.6" text-anchor="end" font-family="Liberation Sans, Arial, sans-serif" fill="#222" stroke="#222" stroke-width="0.12">24</text>
<line x1="17.80" y1="151.4" x2="17.80" y2="152.70" stroke="#1a1a1a" stroke-width="0.5"/>
<text x="18.40" y="156.25" font-size="4.0" text-anchor="middle" font-family="Liberation Sans, Arial, sans-serif" fill="#3a3a3a">JAN</text>
<line x1="28.27" y1="151.4" x2="28.27" y2="152.70" stroke="#1a1a1a" stroke-width="0.5"/>
<text x="28.27" y="156.25" font-size="4.0" text-anchor="middle" font-family="Liberation Sans, Arial, sans-serif" fill="#3a3a3a">FEB</text>
<line x1="38.75" y1="151.4" x2="38.75" y2="152.70" stroke="#1a1a1a" stroke-width="0.5"/>
<text x="38.75" y="156.25" font-size="4.0" text-anchor="middle" font-family="Liberation Sans, Arial, sans-serif" fill="#3a3a3a">MAR</text>
<line x1="49.22" y1="151.4" x2="49.22" y2="152.70" stroke="#1a1a1a" stroke-width="0.5"/>
<text x="49.22" y="156.25" font-size="4.0" text-anchor="middle" font-family="Liberation Sans, Arial, sans-serif" fill="#3a3a3a">APR</text>
<line x1="59.69" y1="151.4" x2="59.69" y2="152.70" stroke="#1a1a1a" stroke-width="0.5"/>
<text x="59.69" y="156.25" font-size="4.0" text-anchor="middle" font-family="Liberation Sans, Arial, sans-serif" fill="#3a3a3a">MAY</text>
<line x1="70.16" y1="151.4" x2="70.16" y2="152.70" stroke="#1a1a1a" stroke-width="0.5"/>
<text x="70.16" y="156.25" font-size="4.0" text-anchor="middle" font-family="Liberation Sans, Arial, sans-serif" fill="#3a3a3a">JUN</text>
<line x1="80.64" y1="151.4" x2="80.64" y2="152.70" stroke="#1a1a1a" stroke-width="0.5"/>
<text x="80.64" y="156.25" font-size="4.0" text-anchor="middle" font-family="Liberation Sans, Arial, sans-serif" fill="#3a3a3a">JUL</text>
<line x1="91.11" y1="151.4" x2="91.11" y2="152.70" stroke="#1a1a1a" stroke-width="0.5"/>
<text x="91.11" y="156.25" font-size="4.0" text-anchor="middle" font-family="Liberation Sans, Arial, sans-serif" fill="#3a3a3a">AUG</text>
<line x1="101.58" y1="151.4" x2="101.58" y2="152.70" stroke="#1a1a1a" stroke-width="0.5"/>
<text x="101.58" y="156.25" font-size="4.0" text-anchor="middle" font-family="Liberation Sans, Arial, sans-serif" fill="#3a3a3a">SEP</text>
<line x1="112.05" y1="151.4" x2="112.05" y2="152.70" stroke="#1a1a1a" stroke-width="0.5"/>
<text x="112.05" y="156.25" font-size="4.0" text-anchor="middle" font-family="Liberation Sans, Arial, sans-serif" fill="#3a3a3a">OCT</text>
<line x1="122.53" y1="151.4" x2="122.53" y2="152.70" stroke="#1a1a1a" stroke-width="0.5"/>
<text x="122.53" y="156.25" font-size="4.0" text-anchor="middle" font-family="Liberation Sans, Arial, sans-serif" fill="#3a3a3a">NOV</text>
<line x1="133.00" y1="151.4" x2="133.00" y2="152.70" stroke="#1a1a1a" stroke-width="0.5"/>
<text x="133.00" y="156.25" font-size="4.0" text-anchor="middle" font-family="Liberation Sans, Arial, sans-serif" fill="#3a3a3a">DEC</text>
<text x="18.80" y="87.40" font-size="8.2" font-family="Liberation Sans, Arial, sans-serif" fill="#111" stroke="#111" stroke-width="0.15">(d) SIC</text>
<text x="82.70" y="87.85" font-size="7.8" textLength="43.30" lengthAdjust="spacingAndGlyphs" font-family="Liberation Sans, Arial, sans-serif" fill="#111" stroke="#111" stroke-width="0.12">58°S − 70°S</text>
<line x1="19.90" y1="92.90" x2="24.70" y2="92.90" stroke="#a030ee" stroke-width="0.95" stroke-opacity="0.85"/>
<text x="27.00" y="94.70" font-size="5.0" font-family="Liberation Sans, Arial, sans-serif" fill="#222" stroke="#222" stroke-width="0.1">MMM+std</text>
<line x1="19.90" y1="98.35" x2="24.70" y2="98.35" stroke="#ebe32a" stroke-width="0.95" stroke-opacity="0.85"/>
<text x="27.00" y="100.15" font-size="5.0" font-family="Liberation Sans, Arial, sans-serif" fill="#222" stroke="#222" stroke-width="0.1">MMM</text>
<line x1="19.90" y1="103.80" x2="24.70" y2="103.80" stroke="#b97cee" stroke-width="0.95" stroke-opacity="0.85"/>
<text x="27.00" y="105.60" font-size="5.0" font-family="Liberation Sans, Arial, sans-serif" fill="#222" stroke="#222" stroke-width="0.1">MMM−std</text>
<text transform="translate(5.0,151.60) rotate(-90)" font-size="5.3" stroke="#222" stroke-width="0.1" textLength="49" lengthAdjust="spacingAndGlyphs" font-family="Liberation Sans, Arial, sans-serif" fill="#222">SIC (million sq km)</text>
<polyline points="178.71,151.40 189.25,149.80 199.78,145.80 210.32,141.40 220.85,137.90 231.39,136.20 241.93,137.40 252.46,142.30 263.00,149.20" fill="none" stroke="#b97cee" stroke-width="0.8" stroke-linejoin="round" stroke-linecap="round"/>
<polyline points="147.10,147.00 157.64,148.40 168.17,148.70 178.71,146.50 189.25,141.80 199.78,136.50 210.32,131.60 220.85,128.00 231.39,126.90 241.93,128.30 252.46,133.50 263.00,141.40" fill="none" stroke="#ebe32a" stroke-width="0.95" stroke-linejoin="round" stroke-linecap="round"/>
<polyline points="147.10,146.30 157.64,148.70 168.17,148.70 178.71,145.80 189.25,140.50 199.78,134.40 210.32,129.50 220.85,127.10 231.39,126.60 241.93,127.40 252.46,132.30 263.00,140.50" fill="none" stroke="#2a3eee" stroke-width="0.8" stroke-linejoin="round" stroke-linecap="round"/>
<polyline points="147.10,142.80 157.64,147.20 168.17,148.00 178.71,144.00 189.25,137.00 199.78,130.60 210.32,125.30 220.85,123.10 231.39,122.60 241.93,123.60 252.46,127.10 263.00,132.70" fill="none" stroke="#f03050" stroke-width="0.8" stroke-linejoin="round" stroke-linecap="round"/>
<polyline points="147.10,141.40 157.64,145.60 168.17,145.90 178.71,140.40 189.25,134.30 199.78,127.30 210.32,121.30 220.85,118.20 231.39,117.30 241.93,119.10 252.46,124.30 263.00,132.70" fill="none" stroke="#a030ee" stroke-width="0.9" stroke-linejoin="round" stroke-linecap="round"/>
<polyline points="147.10,140.00 157.64,145.40 168.17,145.80 178.71,140.50 189.25,132.10 199.78,124.50 210.32,120.10 220.85,117.80 231.39,117.30 241.93,118.40 252.46,122.60 263.00,128.80" fill="none" stroke="#1a1a1a" stroke-width="0.8" stroke-linejoin="round" stroke-linecap="round"/>
<rect x="147.1" y="90.85" width="115.90" height="60.55" fill="none" stroke="#2a2a2a" stroke-width="1.05"/>
<line x1="145.70" y1="151.40" x2="147.1" y2="151.40" stroke="#1a1a1a" stroke-width="0.5"/>
<text x="145.20" y="153.02" font-size="4.6" text-anchor="end" font-family="Liberation Sans, Arial, sans-serif" fill="#222" stroke="#222" stroke-width="0.12">0</text>
<line x1="145.70" y1="146.56" x2="147.1" y2="146.56" stroke="#1a1a1a" stroke-width="0.5"/>
<text x="145.20" y="148.18" font-size="4.6" text-anchor="end" font-family="Liberation Sans, Arial, sans-serif" fill="#222" stroke="#222" stroke-width="0.12">2</text>
<line x1="145.70" y1="141.71" x2="147.1" y2="141.71" stroke="#1a1a1a" stroke-width="0.5"/>
<text x="145.20" y="143.33" font-size="4.6" text-anchor="end" font-family="Liberation Sans, Arial, sans-serif" fill="#222" stroke="#222" stroke-width="0.12">4</text>
<line x1="145.70" y1="136.87" x2="147.1" y2="136.87" stroke="#1a1a1a" stroke-width="0.5"/>
<text x="145.20" y="138.49" font-size="4.6" text-anchor="end" font-family="Liberation Sans, Arial, sans-serif" fill="#222" stroke="#222" stroke-width="0.12">6</text>
<line x1="145.70" y1="132.02" x2="147.1" y2="132.02" stroke="#1a1a1a" stroke-width="0.5"/>
<text x="145.20" y="133.64" font-size="4.6" text-anchor="end" font-family="Liberation Sans, Arial, sans-serif" fill="#222" stroke="#222" stroke-width="0.12">8</text>
<line x1="145.70" y1="127.18" x2="147.1" y2="127.18" stroke="#1a1a1a" stroke-width="0.5"/>
<text x="145.20" y="128.80" font-size="4.6" text-anchor="end" font-family="Liberation Sans, Arial, sans-serif" fill="#222" stroke="#222" stroke-width="0.12">10</text>
<line x1="145.70" y1="122.34" x2="147.1" y2="122.34" stroke="#1a1a1a" stroke-width="0.5"/>
<text x="145.20" y="123.96" font-size="4.6" text-anchor="end" font-family="Liberation Sans, Arial, sans-serif" fill="#222" stroke="#222" stroke-width="0.12">12</text>
<line x1="145.70" y1="117.49" x2="147.1" y2="117.49" stroke="#1a1a1a" stroke-width="0.5"/>
<text x="145.20" y="119.11" font-size="4.6" text-anchor="end" font-family="Liberation Sans, Arial, sans-serif" fill="#222" stroke="#222" stroke-width="0.12">14</text>
<line x1="145.70" y1="112.65" x2="147.1" y2="112.65" stroke="#1a1a1a" stroke-width="0.5"/>
<text x="145.20" y="114.27" font-size="4.6" text-anchor="end" font-family="Liberation Sans, Arial, sans-serif" fill="#222" stroke="#222" stroke-width="0.12">16</text>
<line x1="145.70" y1="107.80" x2="147.1" y2="107.80" stroke="#1a1a1a" stroke-width="0.5"/>
<text x="145.20" y="109.42" font-size="4.6" text-anchor="end" font-family="Liberation Sans, Arial, sans-serif" fill="#222" stroke="#222" stroke-width="0.12">18</text>
<line x1="145.70" y1="102.96" x2="147.1" y2="102.96" stroke="#1a1a1a" stroke-width="0.5"/>
<text x="145.20" y="104.58" font-size="4.6" text-anchor="end" font-family="Liberation Sans, Arial, sans-serif" fill="#222" stroke="#222" stroke-width="0.12">20</text>
<line x1="145.70" y1="98.12" x2="147.1" y2="98.12" stroke="#1a1a1a" stroke-width="0.5"/>
<text x="145.20" y="99.74" font-size="4.6" text-anchor="end" font-family="Liberation Sans, Arial, sans-serif" fill="#222" stroke="#222" stroke-width="0.12">22</text>
<line x1="145.70" y1="93.27" x2="147.1" y2="93.27" stroke="#1a1a1a" stroke-width="0.5"/>
<text x="145.20" y="94.89" font-size="4.6" text-anchor="end" font-family="Liberation Sans, Arial, sans-serif" fill="#222" stroke="#222" stroke-width="0.12">24</text>
<line x1="147.10" y1="151.4" x2="147.10" y2="152.70" stroke="#1a1a1a" stroke-width="0.5"/>
<line x1="157.64" y1="151.4" x2="157.64" y2="152.70" stroke="#1a1a1a" stroke-width="0.5"/>
<text x="157.64" y="156.25" font-size="4.0" text-anchor="middle" font-family="Liberation Sans, Arial, sans-serif" fill="#3a3a3a">FEB</text>
<line x1="168.17" y1="151.4" x2="168.17" y2="152.70" stroke="#1a1a1a" stroke-width="0.5"/>
<text x="168.17" y="156.25" font-size="4.0" text-anchor="middle" font-family="Liberation Sans, Arial, sans-serif" fill="#3a3a3a">MAR</text>
<line x1="178.71" y1="151.4" x2="178.71" y2="152.70" stroke="#1a1a1a" stroke-width="0.5"/>
<text x="178.71" y="156.25" font-size="4.0" text-anchor="middle" font-family="Liberation Sans, Arial, sans-serif" fill="#3a3a3a">APR</text>
<line x1="189.25" y1="151.4" x2="189.25" y2="152.70" stroke="#1a1a1a" stroke-width="0.5"/>
<text x="189.25" y="156.25" font-size="4.0" text-anchor="middle" font-family="Liberation Sans, Arial, sans-serif" fill="#3a3a3a">MAY</text>
<line x1="199.78" y1="151.4" x2="199.78" y2="152.70" stroke="#1a1a1a" stroke-width="0.5"/>
<text x="199.78" y="156.25" font-size="4.0" text-anchor="middle" font-family="Liberation Sans, Arial, sans-serif" fill="#3a3a3a">JUN</text>
<line x1="210.32" y1="151.4" x2="210.32" y2="152.70" stroke="#1a1a1a" stroke-width="0.5"/>
<text x="210.32" y="156.25" font-size="4.0" text-anchor="middle" font-family="Liberation Sans, Arial, sans-serif" fill="#3a3a3a">JUL</text>
<line x1="220.85" y1="151.4" x2="220.85" y2="152.70" stroke="#1a1a1a" stroke-width="0.5"/>
<text x="220.85" y="156.25" font-size="4.0" text-anchor="middle" font-family="Liberation Sans, Arial, sans-serif" fill="#3a3a3a">AUG</text>
<line x1="231.39" y1="151.4" x2="231.39" y2="152.70" stroke="#1a1a1a" stroke-width="0.5"/>
<text x="231.39" y="156.25" font-size="4.0" text-anchor="middle" font-family="Liberation Sans, Arial, sans-serif" fill="#3a3a3a">SEP</text>
<line x1="241.93" y1="151.4" x2="241.93" y2="152.70" stroke="#1a1a1a" stroke-width="0.5"/>
<text x="241.93" y="156.25" font-size="4.0" text-anchor="middle" font-family="Liberation Sans, Arial, sans-serif" fill="#3a3a3a">OCT</text>
<line x1="252.46" y1="151.4" x2="252.46" y2="152.70" stroke="#1a1a1a" stroke-width="0.5"/>
<text x="252.46" y="156.25" font-size="4.0" text-anchor="middle" font-family="Liberation Sans, Arial, sans-serif" fill="#3a3a3a">NOV</text>
<line x1="263.00" y1="151.4" x2="263.00" y2="152.70" stroke="#1a1a1a" stroke-width="0.5"/>
<text x="263.00" y="156.25" font-size="4.0" text-anchor="middle" font-family="Liberation Sans, Arial, sans-serif" fill="#3a3a3a">DEC</text>
<text x="148.80" y="87.40" font-size="8.2" font-family="Liberation Sans, Arial, sans-serif" fill="#111" stroke="#111" stroke-width="0.15">(e) SIC</text>
<text x="210.50" y="87.85" font-size="7.8" textLength="43.50" lengthAdjust="spacingAndGlyphs" font-family="Liberation Sans, Arial, sans-serif" fill="#111" stroke="#111" stroke-width="0.12">58°S − 70°S</text>
<line x1="149.40" y1="92.80" x2="153.70" y2="92.80" stroke="#a030ee" stroke-width="0.95" stroke-opacity="0.85"/>
<text x="154.70" y="94.60" font-size="5.0" font-family="Liberation Sans, Arial, sans-serif" fill="#222" stroke="#222" stroke-width="0.1">MMM+std</text>
<line x1="149.40" y1="98.10" x2="153.70" y2="98.10" stroke="#ebe32a" stroke-width="0.95" stroke-opacity="0.85"/>
<text x="154.70" y="99.90" font-size="5.0" font-family="Liberation Sans, Arial, sans-serif" fill="#222" stroke="#222" stroke-width="0.1">MMM</text>
<line x1="149.40" y1="103.40" x2="153.70" y2="103.40" stroke="#b97cee" stroke-width="0.95" stroke-opacity="0.85"/>
<text x="154.70" y="105.20" font-size="5.0" font-family="Liberation Sans, Arial, sans-serif" fill="#222" stroke="#222" stroke-width="0.1">MMM−std</text>
<line x1="149.40" y1="108.70" x2="153.70" y2="108.70" stroke="#2a3eee" stroke-width="0.95" stroke-opacity="0.85"/>
<text x="154.70" y="110.50" font-size="5.0" font-family="Liberation Sans, Arial, sans-serif" fill="#222" stroke="#222" stroke-width="0.1">OBS</text>
<line x1="149.40" y1="114.00" x2="153.70" y2="114.00" stroke="#1a1a1a" stroke-width="0.95" stroke-opacity="0.85"/>
<text x="154.70" y="115.80" font-size="5.0" font-family="Liberation Sans, Arial, sans-serif" fill="#222" stroke="#222" stroke-width="0.1">NOS</text>
<line x1="149.40" y1="119.30" x2="153.70" y2="119.30" stroke="#f03050" stroke-width="0.95" stroke-opacity="0.85"/>
<text x="154.70" y="121.10" font-size="5.0" font-family="Liberation Sans, Arial, sans-serif" fill="#222" stroke="#222" stroke-width="0.1">S</text>
<polyline points="276.30,147.00 286.87,148.70 297.45,148.90 308.02,147.00 318.59,142.80 329.16,137.00 339.74,131.30 350.31,128.30 360.88,127.10 371.45,128.30 382.03,133.90 392.60,141.70" fill="none" stroke="#ebe32a" stroke-width="0.95" stroke-linejoin="round" stroke-linecap="round"/>
<polyline points="276.30,147.50 286.87,149.20 297.45,149.40 308.02,147.50 318.59,144.00 329.16,138.30 339.74,133.00 350.31,129.70 360.88,128.30 371.45,129.20 382.03,134.40 392.60,142.30" fill="none" stroke="#ff1493" stroke-width="0.9" stroke-linejoin="round" stroke-linecap="round"/>
<polyline points="276.30,146.60 286.87,148.70 297.45,148.70 308.02,146.30 318.59,141.40 329.16,134.90 339.74,129.50 350.31,127.40 360.88,126.70 371.45,128.00 382.03,133.00 392.60,141.00" fill="none" stroke="#2a3eee" stroke-width="0.9" stroke-linejoin="round" stroke-linecap="round"/>
<polyline points="276.30,146.00 286.87,148.30 297.45,148.40 308.02,146.20 318.59,141.30 329.16,135.00 339.74,129.50 350.31,127.00 360.88,126.10 371.45,127.80 382.03,133.50 392.60,141.70" fill="none" stroke="#a030ee" stroke-width="0.8" stroke-linejoin="round" stroke-linecap="round"/>
<rect x="276.3" y="90.85" width="116.30" height="60.55" fill="none" stroke="#2a2a2a" stroke-width="1.05"/>
<line x1="274.90" y1="151.40" x2="276.3" y2="151.40" stroke="#1a1a1a" stroke-width="0.5"/>
<text x="274.40" y="153.02" font-size="4.6" text-anchor="end" font-family="Liberation Sans, Arial, sans-serif" fill="#222" stroke="#222" stroke-width="0.12">0</text>
<line x1="274.90" y1="146.56" x2="276.3" y2="146.56" stroke="#1a1a1a" stroke-width="0.5"/>
<text x="274.40" y="148.18" font-size="4.6" text-anchor="end" font-family="Liberation Sans, Arial, sans-serif" fill="#222" stroke="#222" stroke-width="0.12">2</text>
<line x1="274.90" y1="141.71" x2="276.3" y2="141.71" stroke="#1a1a1a" stroke-width="0.5"/>
<text x="274.40" y="143.33" font-size="4.6" text-anchor="end" font-family="Liberation Sans, Arial, sans-serif" fill="#222" stroke="#222" stroke-width="0.12">4</text>
<line x1="274.90" y1="136.87" x2="276.3" y2="136.87" stroke="#1a1a1a" stroke-width="0.5"/>
<text x="274.40" y="138.49" font-size="4.6" text-anchor="end" font-family="Liberation Sans, Arial, sans-serif" fill="#222" stroke="#222" stroke-width="0.12">6</text>
<line x1="274.90" y1="132.02" x2="276.3" y2="132.02" stroke="#1a1a1a" stroke-width="0.5"/>
<text x="274.40" y="133.64" font-size="4.6" text-anchor="end" font-family="Liberation Sans, Arial, sans-serif" fill="#222" stroke="#222" stroke-width="0.12">8</text>
<line x1="274.90" y1="127.18" x2="276.3" y2="127.18" stroke="#1a1a1a" stroke-width="0.5"/>
<text x="274.40" y="128.80" font-size="4.6" text-anchor="end" font-family="Liberation Sans, Arial, sans-serif" fill="#222" stroke="#222" stroke-width="0.12">10</text>
<line x1="274.90" y1="122.34" x2="276.3" y2="122.34" stroke="#1a1a1a" stroke-width="0.5"/>
<text x="274.40" y="123.96" font-size="4.6" text-anchor="end" font-family="Liberation Sans, Arial, sans-serif" fill="#222" stroke="#222" stroke-width="0.12">12</text>
<line x1="274.90" y1="117.49" x2="276.3" y2="117.49" stroke="#1a1a1a" stroke-width="0.5"/>
<text x="274.40" y="119.11" font-size="4.6" text-anchor="end" font-family="Liberation Sans, Arial, sans-serif" fill="#222" stroke="#222" stroke-width="0.12">14</text>
<line x1="274.90" y1="112.65" x2="276.3" y2="112.65" stroke="#1a1a1a" stroke-width="0.5"/>
<text x="274.40" y="114.27" font-size="4.6" text-anchor="end" font-family="Liberation Sans, Arial, sans-serif" fill="#222" stroke="#222" stroke-width="0.12">16</text>
<line x1="274.90" y1="107.80" x2="276.3" y2="107.80" stroke="#1a1a1a" stroke-width="0.5"/>
<text x="274.40" y="109.42" font-size="4.6" text-anchor="end" font-family="Liberation Sans, Arial, sans-serif" fill="#222" stroke="#222" stroke-width="0.12">18</text>
<line x1="274.90" y1="102.96" x2="276.3" y2="102.96" stroke="#1a1a1a" stroke-width="0.5"/>
<text x="274.40" y="104.58" font-size="4.6" text-anchor="end" font-family="Liberation Sans, Arial, sans-serif" fill="#222" stroke="#222" stroke-width="0.12">20</text>
<line x1="274.90" y1="98.12" x2="276.3" y2="98.12" stroke="#1a1a1a" stroke-width="0.5"/>
<text x="274.40" y="99.74" font-size="4.6" text-anchor="end" font-family="Liberation Sans, Arial, sans-serif" fill="#222" stroke="#222" stroke-width="0.12">22</text>
<line x1="274.90" y1="93.27" x2="276.3" y2="93.27" stroke="#1a1a1a" stroke-width="0.5"/>
<text x="274.40" y="94.89" font-size="4.6" text-anchor="end" font-family="Liberation Sans, Arial, sans-serif" fill="#222" stroke="#222" stroke-width="0.12">24</text>
<line x1="276.30" y1="151.4" x2="276.30" y2="152.70" stroke="#1a1a1a" stroke-width="0.5"/>
<line x1="286.87" y1="151.4" x2="286.87" y2="152.70" stroke="#1a1a1a" stroke-width="0.5"/>
<text x="286.87" y="156.25" font-size="4.0" text-anchor="middle" font-family="Liberation Sans, Arial, sans-serif" fill="#3a3a3a">FEB</text>
<line x1="297.45" y1="151.4" x2="297.45" y2="152.70" stroke="#1a1a1a" stroke-width="0.5"/>
<text x="297.45" y="156.25" font-size="4.0" text-anchor="middle" font-family="Liberation Sans, Arial, sans-serif" fill="#3a3a3a">MAR</text>
<line x1="308.02" y1="151.4" x2="308.02" y2="152.70" stroke="#1a1a1a" stroke-width="0.5"/>
<text x="308.02" y="156.25" font-size="4.0" text-anchor="middle" font-family="Liberation Sans, Arial, sans-serif" fill="#3a3a3a">APR</text>
<line x1="318.59" y1="151.4" x2="318.59" y2="152.70" stroke="#1a1a1a" stroke-width="0.5"/>
<text x="318.59" y="156.25" font-size="4.0" text-anchor="middle" font-family="Liberation Sans, Arial, sans-serif" fill="#3a3a3a">MAY</text>
<line x1="329.16" y1="151.4" x2="329.16" y2="152.70" stroke="#1a1a1a" stroke-width="0.5"/>
<text x="329.16" y="156.25" font-size="4.0" text-anchor="middle" font-family="Liberation Sans, Arial, sans-serif" fill="#3a3a3a">JUN</text>
<line x1="339.74" y1="151.4" x2="339.74" y2="152.70" stroke="#1a1a1a" stroke-width="0.5"/>
<text x="339.74" y="156.25" font-size="4.0" text-anchor="middle" font-family="Liberation Sans, Arial, sans-serif" fill="#3a3a3a">JUL</text>
<line x1="350.31" y1="151.4" x2="350.31" y2="152.70" stroke="#1a1a1a" stroke-width="0.5"/>
<text x="350.31" y="156.25" font-size="4.0" text-anchor="middle" font-family="Liberation Sans, Arial, sans-serif" fill="#3a3a3a">AUG</text>
<line x1="360.88" y1="151.4" x2="360.88" y2="152.70" stroke="#1a1a1a" stroke-width="0.5"/>
<text x="360.88" y="156.25" font-size="4.0" text-anchor="middle" font-family="Liberation Sans, Arial, sans-serif" fill="#3a3a3a">SEP</text>
<line x1="371.45" y1="151.4" x2="371.45" y2="152.70" stroke="#1a1a1a" stroke-width="0.5"/>
<text x="371.45" y="156.25" font-size="4.0" text-anchor="middle" font-family="Liberation Sans, Arial, sans-serif" fill="#3a3a3a">OCT</text>
<line x1="382.03" y1="151.4" x2="382.03" y2="152.70" stroke="#1a1a1a" stroke-width="0.5"/>
<text x="382.03" y="156.25" font-size="4.0" text-anchor="middle" font-family="Liberation Sans, Arial, sans-serif" fill="#3a3a3a">NOV</text>
<line x1="392.60" y1="151.4" x2="392.60" y2="152.70" stroke="#1a1a1a" stroke-width="0.5"/>
<text x="392.60" y="156.25" font-size="4.0" text-anchor="middle" font-family="Liberation Sans, Arial, sans-serif" fill="#3a3a3a">DEC</text>
<text x="275.50" y="87.40" font-size="8.2" font-family="Liberation Sans, Arial, sans-serif" fill="#111" stroke="#111" stroke-width="0.15">(f) SIC</text>
<text x="336.60" y="87.85" font-size="7.8" textLength="43.50" lengthAdjust="spacingAndGlyphs" font-family="Liberation Sans, Arial, sans-serif" fill="#111" stroke="#111" stroke-width="0.12">58°S − 70°S</text>
<line x1="277.90" y1="93.60" x2="282.60" y2="93.60" stroke="#ebe32a" stroke-width="0.95" stroke-opacity="0.85"/>
<text x="284.60" y="95.40" font-size="5.0" font-family="Liberation Sans, Arial, sans-serif" fill="#222" stroke="#222" stroke-width="0.1">MMM</text>
<line x1="277.90" y1="98.80" x2="282.60" y2="98.80" stroke="#2a3eee" stroke-width="0.95" stroke-opacity="0.85"/>
<text x="284.60" y="100.60" font-size="5.0" font-family="Liberation Sans, Arial, sans-serif" fill="#222" stroke="#222" stroke-width="0.1">OBS</text>
<line x1="277.90" y1="104.00" x2="282.60" y2="104.00" stroke="#a030ee" stroke-width="0.95" stroke-opacity="0.85"/>
<text x="284.60" y="105.80" font-size="5.0" font-family="Liberation Sans, Arial, sans-serif" fill="#222" stroke="#222" stroke-width="0.1">CM5−NOS</text>
<line x1="277.90" y1="109.20" x2="282.60" y2="109.20" stroke="#ff1493" stroke-width="0.95" stroke-opacity="0.85"/>
<text x="284.60" y="111.00" font-size="5.0" font-family="Liberation Sans, Arial, sans-serif" fill="#222" stroke="#222" stroke-width="0.1">CM5−S</text>
<polyline points="17.70,229.02 28.15,231.28 38.59,231.81 49.04,228.75 59.48,222.23 69.93,213.99 80.37,205.34 90.82,200.02 101.26,198.16 111.71,200.69 122.15,208.13 132.60,219.84" fill="none" stroke="#000" stroke-width="0.45" stroke-linejoin="round" stroke-linecap="round" stroke-opacity="0.11"/>
<polyline points="17.70,229.54 28.15,231.62 38.59,232.11 49.04,229.30 59.48,223.32 69.93,215.76 80.37,207.83 90.82,202.95 101.26,201.24 111.71,203.56 122.15,210.39 132.60,221.13" fill="none" stroke="#000" stroke-width="0.45" stroke-linejoin="round" stroke-linecap="round" stroke-opacity="0.11"/>
<polyline points="17.70,229.93 28.15,231.87 38.59,232.32 49.04,229.70 59.48,224.11 69.93,217.05 80.37,209.64 90.82,205.08 101.26,203.48 111.71,205.65 122.15,212.03 132.60,222.06" fill="none" stroke="#000" stroke-width="0.45" stroke-linejoin="round" stroke-linecap="round" stroke-opacity="0.11"/>
<polyline points="17.70,230.26 28.15,232.08 38.59,232.51 49.04,230.05 59.48,224.81 69.93,218.17 80.37,211.22 90.82,206.94 101.26,205.44 111.71,207.47 122.15,213.47 132.60,222.88" fill="none" stroke="#000" stroke-width="0.45" stroke-linejoin="round" stroke-linecap="round" stroke-opacity="0.11"/>
<polyline points="17.70,230.94 28.15,232.52 38.59,232.89 49.04,230.75 59.48,226.19 69.93,220.43 80.37,214.38 90.82,210.66 101.26,209.36 111.71,211.13 122.15,216.34 132.60,224.52" fill="none" stroke="#000" stroke-width="0.45" stroke-linejoin="round" stroke-linecap="round" stroke-opacity="0.11"/>
<polyline points="17.70,231.27 28.15,232.73 38.59,233.08 49.04,231.10 59.48,226.89 69.93,221.55 80.37,215.96 90.82,212.52 101.26,211.32 111.71,212.95 122.15,217.77 132.60,225.34" fill="none" stroke="#000" stroke-width="0.45" stroke-linejoin="round" stroke-linecap="round" stroke-opacity="0.11"/>
<polyline points="17.70,231.66 28.15,232.98 38.59,233.29 49.04,231.50 59.48,227.68 69.93,222.84 80.37,217.77 90.82,214.65 101.26,213.56 111.71,215.04 122.15,219.41 132.60,226.27" fill="none" stroke="#000" stroke-width="0.45" stroke-linejoin="round" stroke-linecap="round" stroke-opacity="0.11"/>
<polyline points="17.70,232.04 28.15,233.23 38.59,233.51 49.04,231.90 59.48,228.47 69.93,224.13 80.37,219.58 90.82,216.78 101.26,215.80 111.71,217.13 122.15,221.05 132.60,227.21" fill="none" stroke="#000" stroke-width="0.45" stroke-linejoin="round" stroke-linecap="round" stroke-opacity="0.11"/>
<polyline points="17.70,232.52 28.15,233.54 38.59,233.78 49.04,232.40 59.48,229.46 69.93,225.74 80.37,221.84 90.82,219.44 101.26,218.60 111.71,219.74 122.15,223.10 132.60,228.38" fill="none" stroke="#000" stroke-width="0.45" stroke-linejoin="round" stroke-linecap="round" stroke-opacity="0.11"/>
<polyline points="17.70,233.00 28.15,233.85 38.59,234.05 49.04,232.90 59.48,230.45 69.93,227.35 80.37,224.10 90.82,222.10 101.26,221.40 111.71,222.35 122.15,225.15 132.60,229.55" fill="none" stroke="#000" stroke-width="0.45" stroke-linejoin="round" stroke-linecap="round" stroke-opacity="0.11"/>
<polyline points="17.70,233.58 28.15,234.22 38.59,234.37 49.04,233.50 59.48,231.64 69.93,229.28 80.37,226.81 90.82,225.29 101.26,224.76 111.71,225.48 122.15,227.61 132.60,230.95" fill="none" stroke="#000" stroke-width="0.45" stroke-linejoin="round" stroke-linecap="round" stroke-opacity="0.11"/>
<polyline points="17.70,234.20 28.15,234.62 38.59,234.72 49.04,234.15 59.48,232.93 69.93,231.38 80.37,229.75 90.82,228.75 101.26,228.40 111.71,228.88 122.15,230.28 132.60,232.47" fill="none" stroke="#000" stroke-width="0.45" stroke-linejoin="round" stroke-linecap="round" stroke-opacity="0.11"/>
<polyline points="17.70,234.82 28.15,235.03 38.59,235.08 49.04,234.80 59.48,234.21 69.93,233.47 80.37,232.69 90.82,232.21 101.26,232.04 111.71,232.27 122.15,232.94 132.60,234.00" fill="none" stroke="#000" stroke-width="0.45" stroke-linejoin="round" stroke-linecap="round" stroke-opacity="0.11"/>
<polyline points="17.70,217.00 28.15,223.30 38.59,223.30 49.04,215.00 59.48,206.70 69.93,200.00 80.37,196.00 90.82,193.30 101.26,192.60 111.71,194.00 122.15,199.00 132.60,208.00" fill="none" stroke="#000" stroke-width="0.45" stroke-linejoin="round" stroke-linecap="round" stroke-opacity="0.11"/>
<polyline points="17.70,221.00 28.15,226.50 38.59,226.50 49.04,219.50 59.48,211.50 69.93,204.50 80.37,199.00 90.82,195.80 101.26,194.80 111.71,196.50 122.15,202.50 132.60,212.00" fill="none" stroke="#000" stroke-width="0.45" stroke-linejoin="round" stroke-linecap="round" stroke-opacity="0.11"/>
<polyline points="17.70,228.00 28.15,231.00 38.59,231.30 49.04,227.50 59.48,220.50 69.93,212.00 80.37,205.00 90.82,201.50 101.26,200.50 111.71,203.50 122.15,210.50 132.60,221.00" fill="none" stroke="#000" stroke-width="0.45" stroke-linejoin="round" stroke-linecap="round" stroke-opacity="0.11"/>
<polyline points="49.04,235.40 59.48,233.50 69.93,228.50 80.37,222.80 90.82,219.30 101.26,217.90 111.71,219.30 122.15,224.50 132.60,232.00" fill="none" stroke="#b97cee" stroke-width="0.8" stroke-linejoin="round" stroke-linecap="round"/>
<polyline points="17.70,230.60 28.15,232.30 38.59,232.70 49.04,230.40 59.48,225.50 69.93,219.30 80.37,212.80 90.82,208.80 101.26,207.40 111.71,209.30 122.15,214.90 132.60,223.70" fill="none" stroke="#ebe32a" stroke-width="0.95" stroke-linejoin="round" stroke-linecap="round"/>
<polyline points="17.70,225.40 28.15,229.40 38.59,229.40 49.04,223.70 59.48,216.90 69.93,209.50 80.37,202.40 90.82,198.40 101.26,197.10 111.71,199.20 122.15,205.90 132.60,215.80" fill="none" stroke="#a030ee" stroke-width="0.9" stroke-linejoin="round" stroke-linecap="round"/>
<rect x="17.7" y="173.45" width="114.90" height="61.95" fill="none" stroke="#2a2a2a" stroke-width="1.05"/>
<line x1="16.30" y1="235.40" x2="17.7" y2="235.40" stroke="#1a1a1a" stroke-width="0.5"/>
<text x="15.80" y="237.02" font-size="4.6" text-anchor="end" font-family="Liberation Sans, Arial, sans-serif" fill="#222" stroke="#222" stroke-width="0.12">0</text>
<line x1="16.30" y1="230.44" x2="17.7" y2="230.44" stroke="#1a1a1a" stroke-width="0.5"/>
<text x="15.80" y="232.06" font-size="4.6" text-anchor="end" font-family="Liberation Sans, Arial, sans-serif" fill="#222" stroke="#222" stroke-width="0.12">2</text>
<line x1="16.30" y1="225.49" x2="17.7" y2="225.49" stroke="#1a1a1a" stroke-width="0.5"/>
<text x="15.80" y="227.11" font-size="4.6" text-anchor="end" font-family="Liberation Sans, Arial, sans-serif" fill="#222" stroke="#222" stroke-width="0.12">4</text>
<line x1="16.30" y1="220.53" x2="17.7" y2="220.53" stroke="#1a1a1a" stroke-width="0.5"/>
<text x="15.80" y="222.15" font-size="4.6" text-anchor="end" font-family="Liberation Sans, Arial, sans-serif" fill="#222" stroke="#222" stroke-width="0.12">6</text>
<line x1="16.30" y1="215.58" x2="17.7" y2="215.58" stroke="#1a1a1a" stroke-width="0.5"/>
<text x="15.80" y="217.20" font-size="4.6" text-anchor="end" font-family="Liberation Sans, Arial, sans-serif" fill="#222" stroke="#222" stroke-width="0.12">8</text>
<line x1="16.30" y1="210.62" x2="17.7" y2="210.62" stroke="#1a1a1a" stroke-width="0.5"/>
<text x="15.80" y="212.24" font-size="4.6" text-anchor="end" font-family="Liberation Sans, Arial, sans-serif" fill="#222" stroke="#222" stroke-width="0.12">10</text>
<line x1="16.30" y1="205.66" x2="17.7" y2="205.66" stroke="#1a1a1a" stroke-width="0.5"/>
<text x="15.80" y="207.28" font-size="4.6" text-anchor="end" font-family="Liberation Sans, Arial, sans-serif" fill="#222" stroke="#222" stroke-width="0.12">12</text>
<line x1="16.30" y1="200.71" x2="17.7" y2="200.71" stroke="#1a1a1a" stroke-width="0.5"/>
<text x="15.80" y="202.33" font-size="4.6" text-anchor="end" font-family="Liberation Sans, Arial, sans-serif" fill="#222" stroke="#222" stroke-width="0.12">14</text>
<line x1="16.30" y1="195.75" x2="17.7" y2="195.75" stroke="#1a1a1a" stroke-width="0.5"/>
<text x="15.80" y="197.37" font-size="4.6" text-anchor="end" font-family="Liberation Sans, Arial, sans-serif" fill="#222" stroke="#222" stroke-width="0.12">16</text>
<line x1="16.30" y1="190.80" x2="17.7" y2="190.80" stroke="#1a1a1a" stroke-width="0.5"/>
<text x="15.80" y="192.42" font-size="4.6" text-anchor="end" font-family="Liberation Sans, Arial, sans-serif" fill="#222" stroke="#222" stroke-width="0.12">18</text>
<line x1="16.30" y1="185.84" x2="17.7" y2="185.84" stroke="#1a1a1a" stroke-width="0.5"/>
<text x="15.80" y="187.46" font-size="4.6" text-anchor="end" font-family="Liberation Sans, Arial, sans-serif" fill="#222" stroke="#222" stroke-width="0.12">20</text>
<line x1="16.30" y1="180.88" x2="17.7" y2="180.88" stroke="#1a1a1a" stroke-width="0.5"/>
<text x="15.80" y="182.50" font-size="4.6" text-anchor="end" font-family="Liberation Sans, Arial, sans-serif" fill="#222" stroke="#222" stroke-width="0.12">22</text>
<line x1="16.30" y1="175.93" x2="17.7" y2="175.93" stroke="#1a1a1a" stroke-width="0.5"/>
<text x="15.80" y="177.55" font-size="4.6" text-anchor="end" font-family="Liberation Sans, Arial, sans-serif" fill="#222" stroke="#222" stroke-width="0.12">24</text>
<line x1="17.70" y1="235.4" x2="17.70" y2="236.70" stroke="#1a1a1a" stroke-width="0.5"/>
<text x="18.30" y="240.25" font-size="4.0" text-anchor="middle" font-family="Liberation Sans, Arial, sans-serif" fill="#3a3a3a">JAN</text>
<line x1="28.15" y1="235.4" x2="28.15" y2="236.70" stroke="#1a1a1a" stroke-width="0.5"/>
<text x="28.15" y="240.25" font-size="4.0" text-anchor="middle" font-family="Liberation Sans, Arial, sans-serif" fill="#3a3a3a">FEB</text>
<line x1="38.59" y1="235.4" x2="38.59" y2="236.70" stroke="#1a1a1a" stroke-width="0.5"/>
<text x="38.59" y="240.25" font-size="4.0" text-anchor="middle" font-family="Liberation Sans, Arial, sans-serif" fill="#3a3a3a">MAR</text>
<line x1="49.04" y1="235.4" x2="49.04" y2="236.70" stroke="#1a1a1a" stroke-width="0.5"/>
<text x="49.04" y="240.25" font-size="4.0" text-anchor="middle" font-family="Liberation Sans, Arial, sans-serif" fill="#3a3a3a">APR</text>
<line x1="59.48" y1="235.4" x2="59.48" y2="236.70" stroke="#1a1a1a" stroke-width="0.5"/>
<text x="59.48" y="240.25" font-size="4.0" text-anchor="middle" font-family="Liberation Sans, Arial, sans-serif" fill="#3a3a3a">MAY</text>
<line x1="69.93" y1="235.4" x2="69.93" y2="236.70" stroke="#1a1a1a" stroke-width="0.5"/>
<text x="69.93" y="240.25" font-size="4.0" text-anchor="middle" font-family="Liberation Sans, Arial, sans-serif" fill="#3a3a3a">JUN</text>
<line x1="80.37" y1="235.4" x2="80.37" y2="236.70" stroke="#1a1a1a" stroke-width="0.5"/>
<text x="80.37" y="240.25" font-size="4.0" text-anchor="middle" font-family="Liberation Sans, Arial, sans-serif" fill="#3a3a3a">JUL</text>
<line x1="90.82" y1="235.4" x2="90.82" y2="236.70" stroke="#1a1a1a" stroke-width="0.5"/>
<text x="90.82" y="240.25" font-size="4.0" text-anchor="middle" font-family="Liberation Sans, Arial, sans-serif" fill="#3a3a3a">AUG</text>
<line x1="101.26" y1="235.4" x2="101.26" y2="236.70" stroke="#1a1a1a" stroke-width="0.5"/>
<text x="101.26" y="240.25" font-size="4.0" text-anchor="middle" font-family="Liberation Sans, Arial, sans-serif" fill="#3a3a3a">SEP</text>
<line x1="111.71" y1="235.4" x2="111.71" y2="236.70" stroke="#1a1a1a" stroke-width="0.5"/>
<text x="111.71" y="240.25" font-size="4.0" text-anchor="middle" font-family="Liberation Sans, Arial, sans-serif" fill="#3a3a3a">OCT</text>
<line x1="122.15" y1="235.4" x2="122.15" y2="236.70" stroke="#1a1a1a" stroke-width="0.5"/>
<text x="122.15" y="240.25" font-size="4.0" text-anchor="middle" font-family="Liberation Sans, Arial, sans-serif" fill="#3a3a3a">NOV</text>
<line x1="132.60" y1="235.4" x2="132.60" y2="236.70" stroke="#1a1a1a" stroke-width="0.5"/>
<text x="132.60" y="240.25" font-size="4.0" text-anchor="middle" font-family="Liberation Sans, Arial, sans-serif" fill="#3a3a3a">DEC</text>
<text x="18.80" y="170.00" font-size="8.2" font-family="Liberation Sans, Arial, sans-serif" fill="#111" stroke="#111" stroke-width="0.15">(g) SIC</text>
<text x="76.50" y="170.45" font-size="7.8" textLength="43.40" lengthAdjust="spacingAndGlyphs" font-family="Liberation Sans, Arial, sans-serif" fill="#111" stroke="#111" stroke-width="0.12">50°S − 70°S</text>
<line x1="19.60" y1="175.60" x2="24.70" y2="175.60" stroke="#a030ee" stroke-width="0.95" stroke-opacity="0.85"/>
<text x="27.00" y="177.40" font-size="5.0" font-family="Liberation Sans, Arial, sans-serif" fill="#222" stroke="#222" stroke-width="0.1">MMM+std</text>
<line x1="19.60" y1="180.95" x2="24.70" y2="180.95" stroke="#ebe32a" stroke-width="0.95" stroke-opacity="0.85"/>
<text x="27.00" y="182.75" font-size="5.0" font-family="Liberation Sans, Arial, sans-serif" fill="#222" stroke="#222" stroke-width="0.1">MMM</text>
<line x1="19.60" y1="186.30" x2="24.70" y2="186.30" stroke="#b97cee" stroke-width="0.95" stroke-opacity="0.85"/>
<text x="27.00" y="188.10" font-size="5.0" font-family="Liberation Sans, Arial, sans-serif" fill="#222" stroke="#222" stroke-width="0.1">MMM−std</text>
<text transform="translate(5.0,235.60) rotate(-90)" font-size="5.3" stroke="#222" stroke-width="0.1" textLength="49" lengthAdjust="spacingAndGlyphs" font-family="Liberation Sans, Arial, sans-serif" fill="#222">SIC (million sq km)</text>
<polyline points="181.50,235.40 192.00,233.50 202.50,228.50 213.00,222.80 223.50,219.30 234.00,217.90 244.50,219.30 255.00,224.50 265.50,232.00" fill="none" stroke="#b97cee" stroke-width="0.8" stroke-linejoin="round" stroke-linecap="round"/>
<polyline points="150.00,230.60 160.50,232.30 171.00,232.70 181.50,230.40 192.00,225.50 202.50,219.30 213.00,212.80 223.50,208.80 234.00,207.40 244.50,209.30 255.00,214.90 265.50,223.70" fill="none" stroke="#ebe32a" stroke-width="0.95" stroke-linejoin="round" stroke-linecap="round"/>
<polyline points="150.00,231.20 160.50,233.40 171.00,233.50 181.50,229.20 192.00,223.30 202.50,216.70 213.00,211.10 223.50,208.30 234.00,207.40 244.50,208.80 255.00,214.60 265.50,223.70" fill="none" stroke="#2a3eee" stroke-width="0.8" stroke-linejoin="round" stroke-linecap="round"/>
<polyline points="150.00,226.50 160.50,231.40 171.00,232.00 181.50,227.10 192.00,219.30 202.50,212.30 213.00,207.10 223.50,204.50 234.00,203.90 244.50,205.30 255.00,209.70 265.50,215.80" fill="none" stroke="#f03050" stroke-width="0.8" stroke-linejoin="round" stroke-linecap="round"/>
<polyline points="150.00,225.40 160.50,229.40 171.00,229.40 181.50,223.70 192.00,216.90 202.50,209.50 213.00,202.40 223.50,198.40 234.00,197.10 244.50,199.20 255.00,205.90 265.50,215.80" fill="none" stroke="#a030ee" stroke-width="0.9" stroke-linejoin="round" stroke-linecap="round"/>
<polyline points="150.00,224.00 160.50,229.80 171.00,230.30 181.50,224.00 192.00,215.30 202.50,207.60 213.00,201.80 223.50,198.90 234.00,198.40 244.50,200.10 255.00,205.30 265.50,211.40" fill="none" stroke="#1a1a1a" stroke-width="0.8" stroke-linejoin="round" stroke-linecap="round"/>
<rect x="150.0" y="173.45" width="115.50" height="61.95" fill="none" stroke="#2a2a2a" stroke-width="1.05"/>
<line x1="148.60" y1="235.40" x2="150.0" y2="235.40" stroke="#1a1a1a" stroke-width="0.5"/>
<text x="148.10" y="237.02" font-size="4.6" text-anchor="end" font-family="Liberation Sans, Arial, sans-serif" fill="#222" stroke="#222" stroke-width="0.12">0</text>
<line x1="148.60" y1="230.44" x2="150.0" y2="230.44" stroke="#1a1a1a" stroke-width="0.5"/>
<text x="148.10" y="232.06" font-size="4.6" text-anchor="end" font-family="Liberation Sans, Arial, sans-serif" fill="#222" stroke="#222" stroke-width="0.12">2</text>
<line x1="148.60" y1="225.49" x2="150.0" y2="225.49" stroke="#1a1a1a" stroke-width="0.5"/>
<text x="148.10" y="227.11" font-size="4.6" text-anchor="end" font-family="Liberation Sans, Arial, sans-serif" fill="#222" stroke="#222" stroke-width="0.12">4</text>
<line x1="148.60" y1="220.53" x2="150.0" y2="220.53" stroke="#1a1a1a" stroke-width="0.5"/>
<text x="148.10" y="222.15" font-size="4.6" text-anchor="end" font-family="Liberation Sans, Arial, sans-serif" fill="#222" stroke="#222" stroke-width="0.12">6</text>
<line x1="148.60" y1="215.58" x2="150.0" y2="215.58" stroke="#1a1a1a" stroke-width="0.5"/>
<text x="148.10" y="217.20" font-size="4.6" text-anchor="end" font-family="Liberation Sans, Arial, sans-serif" fill="#222" stroke="#222" stroke-width="0.12">8</text>
<line x1="148.60" y1="210.62" x2="150.0" y2="210.62" stroke="#1a1a1a" stroke-width="0.5"/>
<text x="148.10" y="212.24" font-size="4.6" text-anchor="end" font-family="Liberation Sans, Arial, sans-serif" fill="#222" stroke="#222" stroke-width="0.12">10</text>
<line x1="148.60" y1="205.66" x2="150.0" y2="205.66" stroke="#1a1a1a" stroke-width="0.5"/>
<text x="148.10" y="207.28" font-size="4.6" text-anchor="end" font-family="Liberation Sans, Arial, sans-serif" fill="#222" stroke="#222" stroke-width="0.12">12</text>
<line x1="148.60" y1="200.71" x2="150.0" y2="200.71" stroke="#1a1a1a" stroke-width="0.5"/>
<text x="148.10" y="202.33" font-size="4.6" text-anchor="end" font-family="Liberation Sans, Arial, sans-serif" fill="#222" stroke="#222" stroke-width="0.12">14</text>
<line x1="148.60" y1="195.75" x2="150.0" y2="195.75" stroke="#1a1a1a" stroke-width="0.5"/>
<text x="148.10" y="197.37" font-size="4.6" text-anchor="end" font-family="Liberation Sans, Arial, sans-serif" fill="#222" stroke="#222" stroke-width="0.12">16</text>
<line x1="148.60" y1="190.80" x2="150.0" y2="190.80" stroke="#1a1a1a" stroke-width="0.5"/>
<text x="148.10" y="192.42" font-size="4.6" text-anchor="end" font-family="Liberation Sans, Arial, sans-serif" fill="#222" stroke="#222" stroke-width="0.12">18</text>
<line x1="148.60" y1="185.84" x2="150.0" y2="185.84" stroke="#1a1a1a" stroke-width="0.5"/>
<text x="148.10" y="187.46" font-size="4.6" text-anchor="end" font-family="Liberation Sans, Arial, sans-serif" fill="#222" stroke="#222" stroke-width="0.12">20</text>
<line x1="148.60" y1="180.88" x2="150.0" y2="180.88" stroke="#1a1a1a" stroke-width="0.5"/>
<text x="148.10" y="182.50" font-size="4.6" text-anchor="end" font-family="Liberation Sans, Arial, sans-serif" fill="#222" stroke="#222" stroke-width="0.12">22</text>
<line x1="148.60" y1="175.93" x2="150.0" y2="175.93" stroke="#1a1a1a" stroke-width="0.5"/>
<text x="148.10" y="177.55" font-size="4.6" text-anchor="end" font-family="Liberation Sans, Arial, sans-serif" fill="#222" stroke="#222" stroke-width="0.12">24</text>
<line x1="150.00" y1="235.4" x2="150.00" y2="236.70" stroke="#1a1a1a" stroke-width="0.5"/>
<line x1="160.50" y1="235.4" x2="160.50" y2="236.70" stroke="#1a1a1a" stroke-width="0.5"/>
<text x="160.50" y="240.25" font-size="4.0" text-anchor="middle" font-family="Liberation Sans, Arial, sans-serif" fill="#3a3a3a">FEB</text>
<line x1="171.00" y1="235.4" x2="171.00" y2="236.70" stroke="#1a1a1a" stroke-width="0.5"/>
<text x="171.00" y="240.25" font-size="4.0" text-anchor="middle" font-family="Liberation Sans, Arial, sans-serif" fill="#3a3a3a">MAR</text>
<line x1="181.50" y1="235.4" x2="181.50" y2="236.70" stroke="#1a1a1a" stroke-width="0.5"/>
<text x="181.50" y="240.25" font-size="4.0" text-anchor="middle" font-family="Liberation Sans, Arial, sans-serif" fill="#3a3a3a">APR</text>
<line x1="192.00" y1="235.4" x2="192.00" y2="236.70" stroke="#1a1a1a" stroke-width="0.5"/>
<text x="192.00" y="240.25" font-size="4.0" text-anchor="middle" font-family="Liberation Sans, Arial, sans-serif" fill="#3a3a3a">MAY</text>
<line x1="202.50" y1="235.4" x2="202.50" y2="236.70" stroke="#1a1a1a" stroke-width="0.5"/>
<text x="202.50" y="240.25" font-size="4.0" text-anchor="middle" font-family="Liberation Sans, Arial, sans-serif" fill="#3a3a3a">JUN</text>
<line x1="213.00" y1="235.4" x2="213.00" y2="236.70" stroke="#1a1a1a" stroke-width="0.5"/>
<text x="213.00" y="240.25" font-size="4.0" text-anchor="middle" font-family="Liberation Sans, Arial, sans-serif" fill="#3a3a3a">JUL</text>
<line x1="223.50" y1="235.4" x2="223.50" y2="236.70" stroke="#1a1a1a" stroke-width="0.5"/>
<text x="223.50" y="240.25" font-size="4.0" text-anchor="middle" font-family="Liberation Sans, Arial, sans-serif" fill="#3a3a3a">AUG</text>
<line x1="234.00" y1="235.4" x2="234.00" y2="236.70" stroke="#1a1a1a" stroke-width="0.5"/>
<text x="234.00" y="240.25" font-size="4.0" text-anchor="middle" font-family="Liberation Sans, Arial, sans-serif" fill="#3a3a3a">SEP</text>
<line x1="244.50" y1="235.4" x2="244.50" y2="236.70" stroke="#1a1a1a" stroke-width="0.5"/>
<text x="244.50" y="240.25" font-size="4.0" text-anchor="middle" font-family="Liberation Sans, Arial, sans-serif" fill="#3a3a3a">OCT</text>
<line x1="255.00" y1="235.4" x2="255.00" y2="236.70" stroke="#1a1a1a" stroke-width="0.5"/>
<text x="255.00" y="240.25" font-size="4.0" text-anchor="middle" font-family="Liberation Sans, Arial, sans-serif" fill="#3a3a3a">NOV</text>
<line x1="265.50" y1="235.4" x2="265.50" y2="236.70" stroke="#1a1a1a" stroke-width="0.5"/>
<text x="265.50" y="240.25" font-size="4.0" text-anchor="middle" font-family="Liberation Sans, Arial, sans-serif" fill="#3a3a3a">DEC</text>
<text x="148.80" y="170.00" font-size="8.2" font-family="Liberation Sans, Arial, sans-serif" fill="#111" stroke="#111" stroke-width="0.15">(h) SIC</text>
<text x="206.00" y="170.45" font-size="7.8" textLength="43.40" lengthAdjust="spacingAndGlyphs" font-family="Liberation Sans, Arial, sans-serif" fill="#111" stroke="#111" stroke-width="0.12">50°S − 70°S</text>
<line x1="151.90" y1="175.80" x2="156.30" y2="175.80" stroke="#a030ee" stroke-width="0.95" stroke-opacity="0.85"/>
<text x="158.00" y="177.60" font-size="5.0" font-family="Liberation Sans, Arial, sans-serif" fill="#222" stroke="#222" stroke-width="0.1">MMM+std</text>
<line x1="151.90" y1="181.05" x2="156.30" y2="181.05" stroke="#ebe32a" stroke-width="0.95" stroke-opacity="0.85"/>
<text x="158.00" y="182.85" font-size="5.0" font-family="Liberation Sans, Arial, sans-serif" fill="#222" stroke="#222" stroke-width="0.1">MMM</text>
<line x1="151.90" y1="186.30" x2="156.30" y2="186.30" stroke="#b97cee" stroke-width="0.95" stroke-opacity="0.85"/>
<text x="158.00" y="188.10" font-size="5.0" font-family="Liberation Sans, Arial, sans-serif" fill="#222" stroke="#222" stroke-width="0.1">MMM−std</text>
<line x1="151.90" y1="191.55" x2="156.30" y2="191.55" stroke="#2a3eee" stroke-width="0.95" stroke-opacity="0.85"/>
<text x="158.00" y="193.35" font-size="5.0" font-family="Liberation Sans, Arial, sans-serif" fill="#222" stroke="#222" stroke-width="0.1">OBS</text>
<line x1="151.90" y1="196.80" x2="156.30" y2="196.80" stroke="#1a1a1a" stroke-width="0.95" stroke-opacity="0.85"/>
<text x="158.00" y="198.60" font-size="5.0" font-family="Liberation Sans, Arial, sans-serif" fill="#222" stroke="#222" stroke-width="0.1">NOS</text>
<line x1="151.90" y1="202.05" x2="156.30" y2="202.05" stroke="#f03050" stroke-width="0.95" stroke-opacity="0.85"/>
<text x="158.00" y="203.85" font-size="5.0" font-family="Liberation Sans, Arial, sans-serif" fill="#222" stroke="#222" stroke-width="0.1">S</text>
<polyline points="278.20,230.30 288.68,232.40 299.16,232.40 309.65,229.80 320.13,224.50 330.61,218.40 341.09,212.50 351.57,209.20 362.05,207.60 372.54,209.20 383.02,215.00 393.50,223.70" fill="none" stroke="#ebe32a" stroke-width="0.95" stroke-linejoin="round" stroke-linecap="round"/>
<polyline points="278.20,231.00 288.68,232.70 299.16,232.70 309.65,230.60 320.13,225.70 330.61,219.80 341.09,214.50 351.57,210.60 362.05,208.80 372.54,209.60 383.02,215.40 393.50,224.20" fill="none" stroke="#ff1493" stroke-width="0.9" stroke-linejoin="round" stroke-linecap="round"/>
<polyline points="278.20,229.80 288.68,232.00 299.16,232.00 309.65,228.90 320.13,223.30 330.61,216.70 341.09,211.50 351.57,208.00 362.05,206.70 372.54,208.60 383.02,214.50 393.50,223.60" fill="none" stroke="#2a3eee" stroke-width="0.9" stroke-linejoin="round" stroke-linecap="round"/>
<polyline points="278.20,229.30 288.68,231.60 299.16,231.70 309.65,228.80 320.13,223.20 330.61,216.60 341.09,211.10 351.57,207.40 362.05,206.00 372.54,208.10 383.02,215.00 393.50,224.20" fill="none" stroke="#a030ee" stroke-width="0.8" stroke-linejoin="round" stroke-linecap="round"/>
<rect x="278.2" y="173.45" width="115.30" height="61.95" fill="none" stroke="#2a2a2a" stroke-width="1.05"/>
<line x1="276.80" y1="235.40" x2="278.2" y2="235.40" stroke="#1a1a1a" stroke-width="0.5"/>
<text x="276.30" y="237.02" font-size="4.6" text-anchor="end" font-family="Liberation Sans, Arial, sans-serif" fill="#222" stroke="#222" stroke-width="0.12">0</text>
<line x1="276.80" y1="230.44" x2="278.2" y2="230.44" stroke="#1a1a1a" stroke-width="0.5"/>
<text x="276.30" y="232.06" font-size="4.6" text-anchor="end" font-family="Liberation Sans, Arial, sans-serif" fill="#222" stroke="#222" stroke-width="0.12">2</text>
<line x1="276.80" y1="225.49" x2="278.2" y2="225.49" stroke="#1a1a1a" stroke-width="0.5"/>
<text x="276.30" y="227.11" font-size="4.6" text-anchor="end" font-family="Liberation Sans, Arial, sans-serif" fill="#222" stroke="#222" stroke-width="0.12">4</text>
<line x1="276.80" y1="220.53" x2="278.2" y2="220.53" stroke="#1a1a1a" stroke-width="0.5"/>
<text x="276.30" y="222.15" font-size="4.6" text-anchor="end" font-family="Liberation Sans, Arial, sans-serif" fill="#222" stroke="#222" stroke-width="0.12">6</text>
<line x1="276.80" y1="215.58" x2="278.2" y2="215.58" stroke="#1a1a1a" stroke-width="0.5"/>
<text x="276.30" y="217.20" font-size="4.6" text-anchor="end" font-family="Liberation Sans, Arial, sans-serif" fill="#222" stroke="#222" stroke-width="0.12">8</text>
<line x1="276.80" y1="210.62" x2="278.2" y2="210.62" stroke="#1a1a1a" stroke-width="0.5"/>
<text x="276.30" y="212.24" font-size="4.6" text-anchor="end" font-family="Liberation Sans, Arial, sans-serif" fill="#222" stroke="#222" stroke-width="0.12">10</text>
<line x1="276.80" y1="205.66" x2="278.2" y2="205.66" stroke="#1a1a1a" stroke-width="0.5"/>
<text x="276.30" y="207.28" font-size="4.6" text-anchor="end" font-family="Liberation Sans, Arial, sans-serif" fill="#222" stroke="#222" stroke-width="0.12">12</text>
<line x1="276.80" y1="200.71" x2="278.2" y2="200.71" stroke="#1a1a1a" stroke-width="0.5"/>
<text x="276.30" y="202.33" font-size="4.6" text-anchor="end" font-family="Liberation Sans, Arial, sans-serif" fill="#222" stroke="#222" stroke-width="0.12">14</text>
<line x1="276.80" y1="195.75" x2="278.2" y2="195.75" stroke="#1a1a1a" stroke-width="0.5"/>
<text x="276.30" y="197.37" font-size="4.6" text-anchor="end" font-family="Liberation Sans, Arial, sans-serif" fill="#222" stroke="#222" stroke-width="0.12">16</text>
<line x1="276.80" y1="190.80" x2="278.2" y2="190.80" stroke="#1a1a1a" stroke-width="0.5"/>
<text x="276.30" y="192.42" font-size="4.6" text-anchor="end" font-family="Liberation Sans, Arial, sans-serif" fill="#222" stroke="#222" stroke-width="0.12">18</text>
<line x1="276.80" y1="185.84" x2="278.2" y2="185.84" stroke="#1a1a1a" stroke-width="0.5"/>
<text x="276.30" y="187.46" font-size="4.6" text-anchor="end" font-family="Liberation Sans, Arial, sans-serif" fill="#222" stroke="#222" stroke-width="0.12">20</text>
<line x1="276.80" y1="180.88" x2="278.2" y2="180.88" stroke="#1a1a1a" stroke-width="0.5"/>
<text x="276.30" y="182.50" font-size="4.6" text-anchor="end" font-family="Liberation Sans, Arial, sans-serif" fill="#222" stroke="#222" stroke-width="0.12">22</text>
<line x1="276.80" y1="175.93" x2="278.2" y2="175.93" stroke="#1a1a1a" stroke-width="0.5"/>
<text x="276.30" y="177.55" font-size="4.6" text-anchor="end" font-family="Liberation Sans, Arial, sans-serif" fill="#222" stroke="#222" stroke-width="0.12">24</text>
<line x1="278.20" y1="235.4" x2="278.20" y2="236.70" stroke="#1a1a1a" stroke-width="0.5"/>
<line x1="288.68" y1="235.4" x2="288.68" y2="236.70" stroke="#1a1a1a" stroke-width="0.5"/>
<text x="288.68" y="240.25" font-size="4.0" text-anchor="middle" font-family="Liberation Sans, Arial, sans-serif" fill="#3a3a3a">FEB</text>
<line x1="299.16" y1="235.4" x2="299.16" y2="236.70" stroke="#1a1a1a" stroke-width="0.5"/>
<text x="299.16" y="240.25" font-size="4.0" text-anchor="middle" font-family="Liberation Sans, Arial, sans-serif" fill="#3a3a3a">MAR</text>
<line x1="309.65" y1="235.4" x2="309.65" y2="236.70" stroke="#1a1a1a" stroke-width="0.5"/>
<text x="309.65" y="240.25" font-size="4.0" text-anchor="middle" font-family="Liberation Sans, Arial, sans-serif" fill="#3a3a3a">APR</text>
<line x1="320.13" y1="235.4" x2="320.13" y2="236.70" stroke="#1a1a1a" stroke-width="0.5"/>
<text x="320.13" y="240.25" font-size="4.0" text-anchor="middle" font-family="Liberation Sans, Arial, sans-serif" fill="#3a3a3a">MAY</text>
<line x1="330.61" y1="235.4" x2="330.61" y2="236.70" stroke="#1a1a1a" stroke-width="0.5"/>
<text x="330.61" y="240.25" font-size="4.0" text-anchor="middle" font-family="Liberation Sans, Arial, sans-serif" fill="#3a3a3a">JUN</text>
<line x1="341.09" y1="235.4" x2="341.09" y2="236.70" stroke="#1a1a1a" stroke-width="0.5"/>
<text x="341.09" y="240.25" font-size="4.0" text-anchor="middle" font-family="Liberation Sans, Arial, sans-serif" fill="#3a3a3a">JUL</text>
<line x1="351.57" y1="235.4" x2="351.57" y2="236.70" stroke="#1a1a1a" stroke-width="0.5"/>
<text x="351.57" y="240.25" font-size="4.0" text-anchor="middle" font-family="Liberation Sans, Arial, sans-serif" fill="#3a3a3a">AUG</text>
<line x1="362.05" y1="235.4" x2="362.05" y2="236.70" stroke="#1a1a1a" stroke-width="0.5"/>
<text x="362.05" y="240.25" font-size="4.0" text-anchor="middle" font-family="Liberation Sans, Arial, sans-serif" fill="#3a3a3a">SEP</text>
<line x1="372.54" y1="235.4" x2="372.54" y2="236.70" stroke="#1a1a1a" stroke-width="0.5"/>
<text x="372.54" y="240.25" font-size="4.0" text-anchor="middle" font-family="Liberation Sans, Arial, sans-serif" fill="#3a3a3a">OCT</text>
<line x1="383.02" y1="235.4" x2="383.02" y2="236.70" stroke="#1a1a1a" stroke-width="0.5"/>
<text x="383.02" y="240.25" font-size="4.0" text-anchor="middle" font-family="Liberation Sans, Arial, sans-serif" fill="#3a3a3a">NOV</text>
<line x1="393.50" y1="235.4" x2="393.50" y2="236.70" stroke="#1a1a1a" stroke-width="0.5"/>
<text x="393.50" y="240.25" font-size="4.0" text-anchor="middle" font-family="Liberation Sans, Arial, sans-serif" fill="#3a3a3a">DEC</text>
<text x="275.60" y="170.00" font-size="8.2" font-family="Liberation Sans, Arial, sans-serif" fill="#111" stroke="#111" stroke-width="0.15">(i) SIC</text>
<text x="330.70" y="170.45" font-size="7.8" textLength="43.70" lengthAdjust="spacingAndGlyphs" font-family="Liberation Sans, Arial, sans-serif" fill="#111" stroke="#111" stroke-width="0.12">50°S − 70°S</text>
<line x1="280.90" y1="175.60" x2="285.30" y2="175.60" stroke="#ebe32a" stroke-width="0.95" stroke-opacity="0.85"/>
<text x="287.00" y="177.40" font-size="5.0" font-family="Liberation Sans, Arial, sans-serif" fill="#222" stroke="#222" stroke-width="0.1">MMM</text>
<line x1="280.90" y1="180.85" x2="285.30" y2="180.85" stroke="#2a3eee" stroke-width="0.95" stroke-opacity="0.85"/>
<text x="287.00" y="182.65" font-size="5.0" font-family="Liberation Sans, Arial, sans-serif" fill="#222" stroke="#222" stroke-width="0.1">OBS</text>
<line x1="280.90" y1="186.10" x2="285.30" y2="186.10" stroke="#a030ee" stroke-width="0.95" stroke-opacity="0.85"/>
<text x="287.00" y="187.90" font-size="5.0" font-family="Liberation Sans, Arial, sans-serif" fill="#222" stroke="#222" stroke-width="0.1">CM5−NOS</text>
<line x1="280.90" y1="191.35" x2="285.30" y2="191.35" stroke="#ff1493" stroke-width="0.95" stroke-opacity="0.85"/>
<text x="287.00" y="193.15" font-size="5.0" font-family="Liberation Sans, Arial, sans-serif" fill="#222" stroke="#222" stroke-width="0.1">CM5−S</text>
</svg></body></html>
